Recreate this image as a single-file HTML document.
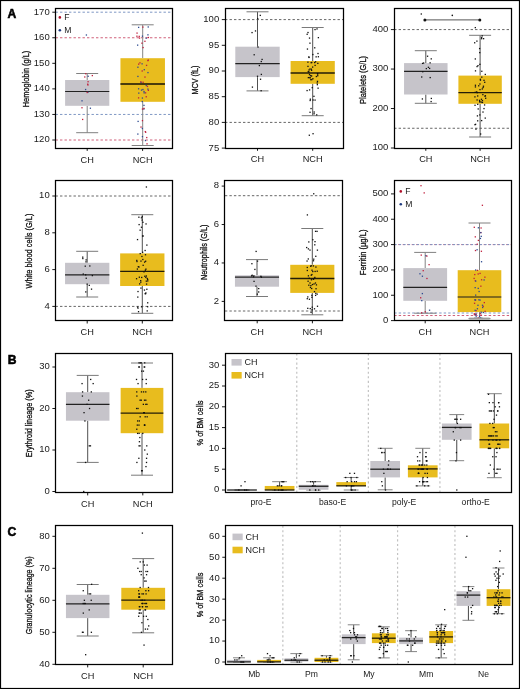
<!DOCTYPE html>
<html><head><meta charset="utf-8"><style>
html,body{margin:0;padding:0;background:#fff;}
svg{display:block;will-change:transform;}
text{font-family:"Liberation Sans",sans-serif;}
</style></head><body>
<svg width="520" height="689" viewBox="0 0 520 689">
<rect x="0" y="0" width="520" height="689" fill="#fff"/>
<line x1="55.50" y1="12.20" x2="172.80" y2="12.20" stroke="#7f97c4" stroke-width="1" stroke-dasharray="2.4 2.1"/>
<line x1="55.50" y1="37.76" x2="172.80" y2="37.76" stroke="#d0607a" stroke-width="1" stroke-dasharray="2.4 2.1"/>
<line x1="55.50" y1="114.44" x2="172.80" y2="114.44" stroke="#7f97c4" stroke-width="1" stroke-dasharray="2.4 2.1"/>
<line x1="55.50" y1="140.00" x2="172.80" y2="140.00" stroke="#d0607a" stroke-width="1" stroke-dasharray="2.4 2.1"/>
<line x1="87.20" y1="73.50" x2="87.20" y2="80.00" stroke="#858585" stroke-width="1"/>
<line x1="87.20" y1="105.80" x2="87.20" y2="132.70" stroke="#858585" stroke-width="1"/>
<line x1="76.20" y1="73.50" x2="98.20" y2="73.50" stroke="#808080" stroke-width="1"/>
<line x1="76.20" y1="132.70" x2="98.20" y2="132.70" stroke="#808080" stroke-width="1"/>
<rect x="65.10" y="80.00" width="44.20" height="25.80" fill="#C6C4CA"/>
<line x1="65.10" y1="91.50" x2="109.30" y2="91.50" stroke="#222" stroke-width="1.2"/>
<rect x="91.69" y="74.95" width="1.30" height="1.30" fill="#C01F3C"/>
<rect x="87.44" y="81.08" width="1.30" height="1.30" fill="#C01F3C"/>
<rect x="81.37" y="100.16" width="1.30" height="1.30" fill="#2E4C91"/>
<rect x="81.34" y="107.10" width="1.30" height="1.30" fill="#C01F3C"/>
<rect x="84.13" y="76.33" width="1.30" height="1.30" fill="#C01F3C"/>
<rect x="87.02" y="83.56" width="1.30" height="1.30" fill="#C01F3C"/>
<rect x="87.24" y="91.68" width="1.30" height="1.30" fill="#2E4C91"/>
<rect x="81.99" y="118.80" width="1.30" height="1.30" fill="#C01F3C"/>
<rect x="85.08" y="73.09" width="1.30" height="1.30" fill="#C01F3C"/>
<rect x="87.29" y="84.34" width="1.30" height="1.30" fill="#C01F3C"/>
<rect x="86.51" y="91.85" width="1.30" height="1.30" fill="#C01F3C"/>
<rect x="89.74" y="107.59" width="1.30" height="1.30" fill="#2E4C91"/>
<rect x="87.53" y="75.61" width="1.30" height="1.30" fill="#2E4C91"/>
<rect x="84.96" y="88.86" width="1.30" height="1.30" fill="#2E4C91"/>
<line x1="142.70" y1="24.80" x2="142.70" y2="58.20" stroke="#858585" stroke-width="1"/>
<line x1="142.70" y1="101.80" x2="142.70" y2="145.50" stroke="#858585" stroke-width="1"/>
<line x1="131.70" y1="24.80" x2="153.70" y2="24.80" stroke="#808080" stroke-width="1"/>
<line x1="131.70" y1="145.50" x2="153.70" y2="145.50" stroke="#808080" stroke-width="1"/>
<rect x="120.45" y="58.20" width="44.50" height="43.60" fill="#E8BC1E"/>
<line x1="120.45" y1="84.00" x2="164.95" y2="84.00" stroke="#4a3c0c" stroke-width="2"/>
<rect x="136.40" y="32.45" width="1.30" height="1.30" fill="#C01F3C"/>
<rect x="139.30" y="62.19" width="1.30" height="1.30" fill="#C01F3C"/>
<rect x="137.95" y="97.23" width="1.30" height="1.30" fill="#C01F3C"/>
<rect x="143.32" y="104.73" width="1.30" height="1.30" fill="#2E4C91"/>
<rect x="147.29" y="34.18" width="1.30" height="1.30" fill="#2E4C91"/>
<rect x="141.55" y="70.32" width="1.30" height="1.30" fill="#C01F3C"/>
<rect x="140.87" y="89.46" width="1.30" height="1.30" fill="#2E4C91"/>
<rect x="137.46" y="120.76" width="1.30" height="1.30" fill="#2E4C91"/>
<rect x="136.99" y="44.49" width="1.30" height="1.30" fill="#2E4C91"/>
<rect x="147.66" y="59.44" width="1.30" height="1.30" fill="#C01F3C"/>
<rect x="138.14" y="92.46" width="1.30" height="1.30" fill="#2E4C91"/>
<rect x="143.22" y="108.36" width="1.30" height="1.30" fill="#2E4C91"/>
<rect x="136.27" y="35.57" width="1.30" height="1.30" fill="#C01F3C"/>
<rect x="142.47" y="81.63" width="1.30" height="1.30" fill="#C01F3C"/>
<rect x="143.37" y="90.86" width="1.30" height="1.30" fill="#2E4C91"/>
<rect x="146.38" y="143.19" width="1.30" height="1.30" fill="#C01F3C"/>
<rect x="137.98" y="26.74" width="1.30" height="1.30" fill="#2E4C91"/>
<rect x="147.32" y="71.95" width="1.30" height="1.30" fill="#2E4C91"/>
<rect x="141.75" y="97.40" width="1.30" height="1.30" fill="#2E4C91"/>
<rect x="146.09" y="136.91" width="1.30" height="1.30" fill="#C01F3C"/>
<rect x="141.82" y="35.51" width="1.30" height="1.30" fill="#2E4C91"/>
<rect x="137.26" y="66.58" width="1.30" height="1.30" fill="#2E4C91"/>
<rect x="144.94" y="92.19" width="1.30" height="1.30" fill="#C01F3C"/>
<rect x="141.80" y="135.97" width="1.30" height="1.30" fill="#2E4C91"/>
<rect x="142.24" y="26.45" width="1.30" height="1.30" fill="#C01F3C"/>
<rect x="147.27" y="59.96" width="1.30" height="1.30" fill="#C01F3C"/>
<rect x="137.96" y="88.15" width="1.30" height="1.30" fill="#2E4C91"/>
<rect x="145.04" y="131.61" width="1.30" height="1.30" fill="#C01F3C"/>
<rect x="147.59" y="26.32" width="1.30" height="1.30" fill="#2E4C91"/>
<rect x="144.32" y="76.41" width="1.30" height="1.30" fill="#C01F3C"/>
<rect x="142.26" y="88.86" width="1.30" height="1.30" fill="#2E4C91"/>
<rect x="140.38" y="126.41" width="1.30" height="1.30" fill="#C01F3C"/>
<rect x="142.43" y="46.90" width="1.30" height="1.30" fill="#C01F3C"/>
<rect x="143.63" y="69.05" width="1.30" height="1.30" fill="#2E4C91"/>
<rect x="145.59" y="96.11" width="1.30" height="1.30" fill="#C01F3C"/>
<rect x="144.83" y="139.91" width="1.30" height="1.30" fill="#2E4C91"/>
<rect x="138.58" y="35.74" width="1.30" height="1.30" fill="#C01F3C"/>
<rect x="140.38" y="81.82" width="1.30" height="1.30" fill="#2E4C91"/>
<rect x="147.71" y="89.68" width="1.30" height="1.30" fill="#C01F3C"/>
<rect x="141.73" y="127.85" width="1.30" height="1.30" fill="#2E4C91"/>
<rect x="144.28" y="40.64" width="1.30" height="1.30" fill="#C01F3C"/>
<rect x="141.44" y="63.18" width="1.30" height="1.30" fill="#2E4C91"/>
<rect x="147.31" y="88.47" width="1.30" height="1.30" fill="#2E4C91"/>
<rect x="137.20" y="133.42" width="1.30" height="1.30" fill="#2E4C91"/>
<rect x="138.89" y="37.44" width="1.30" height="1.30" fill="#C01F3C"/>
<rect x="140.17" y="81.20" width="1.30" height="1.30" fill="#C01F3C"/>
<rect x="143.49" y="92.19" width="1.30" height="1.30" fill="#2E4C91"/>
<rect x="141.81" y="108.42" width="1.30" height="1.30" fill="#C01F3C"/>
<rect x="145.52" y="37.56" width="1.30" height="1.30" fill="#2E4C91"/>
<rect x="145.92" y="64.72" width="1.30" height="1.30" fill="#C01F3C"/>
<rect x="146.79" y="85.79" width="1.30" height="1.30" fill="#C01F3C"/>
<rect x="141.80" y="119.96" width="1.30" height="1.30" fill="#C01F3C"/>
<rect x="141.29" y="42.53" width="1.30" height="1.30" fill="#C01F3C"/>
<rect x="137.27" y="75.78" width="1.30" height="1.30" fill="#2E4C91"/>
<rect x="141.62" y="100.91" width="1.30" height="1.30" fill="#2E4C91"/>
<rect x="144.65" y="130.98" width="1.30" height="1.30" fill="#C01F3C"/>
<rect x="147.76" y="36.86" width="1.30" height="1.30" fill="#C01F3C"/>
<rect x="138.01" y="63.50" width="1.30" height="1.30" fill="#C01F3C"/>
<rect x="145.60" y="84.83" width="1.30" height="1.30" fill="#2E4C91"/>
<rect x="143.34" y="107.76" width="1.30" height="1.30" fill="#C01F3C"/>
<rect x="55.50" y="8.50" width="117.00" height="140.00" fill="none" stroke="#000" stroke-width="1.25"/>
<line x1="52.30" y1="140.00" x2="55.50" y2="140.00" stroke="#000" stroke-width="0.9"/>
<text x="49.70" y="142.40" font-size="9.5" text-anchor="end" font-weight="normal" fill="#1a1a1a">120</text>
<line x1="52.30" y1="114.44" x2="55.50" y2="114.44" stroke="#000" stroke-width="0.9"/>
<text x="49.70" y="116.84" font-size="9.5" text-anchor="end" font-weight="normal" fill="#1a1a1a">130</text>
<line x1="52.30" y1="88.88" x2="55.50" y2="88.88" stroke="#000" stroke-width="0.9"/>
<text x="49.70" y="91.28" font-size="9.5" text-anchor="end" font-weight="normal" fill="#1a1a1a">140</text>
<line x1="52.30" y1="63.32" x2="55.50" y2="63.32" stroke="#000" stroke-width="0.9"/>
<text x="49.70" y="65.72" font-size="9.5" text-anchor="end" font-weight="normal" fill="#1a1a1a">150</text>
<line x1="52.30" y1="37.76" x2="55.50" y2="37.76" stroke="#000" stroke-width="0.9"/>
<text x="49.70" y="40.16" font-size="9.5" text-anchor="end" font-weight="normal" fill="#1a1a1a">160</text>
<line x1="52.30" y1="12.20" x2="55.50" y2="12.20" stroke="#000" stroke-width="0.9"/>
<text x="49.70" y="14.60" font-size="9.5" text-anchor="end" font-weight="normal" fill="#1a1a1a">170</text>
<line x1="87.20" y1="148.30" x2="87.20" y2="150.90" stroke="#000" stroke-width="0.9"/>
<text x="87.20" y="162.50" font-size="9.2" text-anchor="middle" font-weight="normal" fill="#1a1a1a">CH</text>
<line x1="142.60" y1="148.30" x2="142.60" y2="150.90" stroke="#000" stroke-width="0.9"/>
<text x="142.60" y="162.50" font-size="9.2" text-anchor="middle" font-weight="normal" fill="#1a1a1a">NCH</text>
<text x="28.50" y="79.00" font-size="9.6" text-anchor="middle" font-weight="normal" fill="#111" transform="rotate(-90 28.50 79.00)" textLength="56.4" lengthAdjust="spacingAndGlyphs" stroke="#111" stroke-width="0.3">Hemoglobin (g/L)</text>
<circle cx="59.85" cy="17.4" r="1.3" fill="#b0102a"/>
<text x="64.35" y="20.00" font-size="8.6" text-anchor="start" font-weight="normal" fill="#1a1a1a">F</text>
<circle cx="59.85" cy="30.3" r="1.3" fill="#1f3a80"/>
<text x="64.35" y="33.00" font-size="8.6" text-anchor="start" font-weight="normal" fill="#1a1a1a">M</text>
<line x1="225.00" y1="19.60" x2="343.00" y2="19.60" stroke="#666" stroke-width="1" stroke-dasharray="2.4 2.1"/>
<line x1="225.00" y1="122.40" x2="343.00" y2="122.40" stroke="#666" stroke-width="1" stroke-dasharray="2.4 2.1"/>
<line x1="257.50" y1="11.80" x2="257.50" y2="46.70" stroke="#505050" stroke-width="1"/>
<line x1="257.50" y1="77.10" x2="257.50" y2="90.90" stroke="#505050" stroke-width="1"/>
<line x1="246.50" y1="11.80" x2="268.50" y2="11.80" stroke="#7a7a7a" stroke-width="1"/>
<line x1="246.50" y1="90.90" x2="268.50" y2="90.90" stroke="#7a7a7a" stroke-width="1"/>
<rect x="235.30" y="46.70" width="44.40" height="30.40" fill="#C6C4CA"/>
<line x1="235.30" y1="63.70" x2="279.70" y2="63.70" stroke="#222" stroke-width="1.2"/>
<rect x="251.40" y="31.95" width="1.30" height="1.30" fill="#111"/>
<rect x="253.53" y="54.11" width="1.30" height="1.30" fill="#111"/>
<rect x="256.86" y="75.61" width="1.30" height="1.30" fill="#111"/>
<rect x="259.89" y="78.60" width="1.30" height="1.30" fill="#111"/>
<rect x="254.84" y="30.29" width="1.30" height="1.30" fill="#111"/>
<rect x="257.36" y="46.41" width="1.30" height="1.30" fill="#111"/>
<rect x="260.71" y="73.76" width="1.30" height="1.30" fill="#111"/>
<rect x="251.78" y="86.47" width="1.30" height="1.30" fill="#111"/>
<rect x="259.62" y="14.74" width="1.30" height="1.30" fill="#111"/>
<rect x="261.44" y="58.79" width="1.30" height="1.30" fill="#111"/>
<rect x="258.73" y="64.92" width="1.30" height="1.30" fill="#111"/>
<rect x="260.49" y="90.06" width="1.30" height="1.30" fill="#111"/>
<rect x="257.04" y="17.95" width="1.30" height="1.30" fill="#111"/>
<rect x="260.63" y="60.91" width="1.30" height="1.30" fill="#111"/>
<line x1="312.70" y1="27.50" x2="312.70" y2="61.00" stroke="#505050" stroke-width="1"/>
<line x1="312.70" y1="83.80" x2="312.70" y2="115.70" stroke="#505050" stroke-width="1"/>
<line x1="301.70" y1="27.50" x2="323.70" y2="27.50" stroke="#7a7a7a" stroke-width="1"/>
<line x1="301.70" y1="115.70" x2="323.70" y2="115.70" stroke="#7a7a7a" stroke-width="1"/>
<rect x="290.60" y="61.00" width="44.20" height="22.80" fill="#E8BC1E"/>
<line x1="290.60" y1="73.00" x2="334.80" y2="73.00" stroke="#231d08" stroke-width="1.3"/>
<rect x="308.17" y="56.27" width="1.30" height="1.30" fill="#111"/>
<rect x="313.98" y="61.92" width="1.30" height="1.30" fill="#111"/>
<rect x="308.87" y="73.99" width="1.30" height="1.30" fill="#111"/>
<rect x="314.42" y="99.44" width="1.30" height="1.30" fill="#111"/>
<rect x="317.73" y="56.09" width="1.30" height="1.30" fill="#111"/>
<rect x="310.94" y="69.67" width="1.30" height="1.30" fill="#111"/>
<rect x="311.15" y="78.92" width="1.30" height="1.30" fill="#111"/>
<rect x="310.40" y="107.91" width="1.30" height="1.30" fill="#111"/>
<rect x="307.36" y="31.87" width="1.30" height="1.30" fill="#111"/>
<rect x="310.51" y="62.05" width="1.30" height="1.30" fill="#111"/>
<rect x="310.19" y="79.04" width="1.30" height="1.30" fill="#111"/>
<rect x="311.58" y="86.99" width="1.30" height="1.30" fill="#111"/>
<rect x="314.38" y="28.92" width="1.30" height="1.30" fill="#111"/>
<rect x="310.72" y="68.54" width="1.30" height="1.30" fill="#111"/>
<rect x="312.25" y="78.08" width="1.30" height="1.30" fill="#111"/>
<rect x="309.70" y="98.54" width="1.30" height="1.30" fill="#111"/>
<rect x="317.35" y="52.86" width="1.30" height="1.30" fill="#111"/>
<rect x="307.60" y="70.95" width="1.30" height="1.30" fill="#111"/>
<rect x="316.86" y="72.96" width="1.30" height="1.30" fill="#111"/>
<rect x="308.93" y="89.25" width="1.30" height="1.30" fill="#111"/>
<rect x="316.38" y="28.26" width="1.30" height="1.30" fill="#111"/>
<rect x="307.27" y="61.52" width="1.30" height="1.30" fill="#111"/>
<rect x="309.43" y="77.23" width="1.30" height="1.30" fill="#111"/>
<rect x="316.71" y="84.04" width="1.30" height="1.30" fill="#111"/>
<rect x="308.39" y="56.80" width="1.30" height="1.30" fill="#111"/>
<rect x="314.99" y="61.11" width="1.30" height="1.30" fill="#111"/>
<rect x="315.72" y="75.87" width="1.30" height="1.30" fill="#111"/>
<rect x="316.07" y="114.20" width="1.30" height="1.30" fill="#111"/>
<rect x="314.07" y="47.16" width="1.30" height="1.30" fill="#111"/>
<rect x="317.18" y="62.74" width="1.30" height="1.30" fill="#111"/>
<rect x="310.97" y="75.34" width="1.30" height="1.30" fill="#111"/>
<rect x="312.47" y="99.36" width="1.30" height="1.30" fill="#111"/>
<rect x="312.22" y="53.90" width="1.30" height="1.30" fill="#111"/>
<rect x="311.99" y="66.44" width="1.30" height="1.30" fill="#111"/>
<rect x="310.06" y="75.02" width="1.30" height="1.30" fill="#111"/>
<rect x="309.51" y="99.84" width="1.30" height="1.30" fill="#111"/>
<rect x="315.49" y="56.20" width="1.30" height="1.30" fill="#111"/>
<rect x="308.41" y="71.48" width="1.30" height="1.30" fill="#111"/>
<rect x="316.59" y="82.32" width="1.30" height="1.30" fill="#111"/>
<rect x="309.39" y="111.63" width="1.30" height="1.30" fill="#111"/>
<rect x="306.50" y="33.64" width="1.30" height="1.30" fill="#111"/>
<rect x="307.32" y="65.72" width="1.30" height="1.30" fill="#111"/>
<rect x="309.30" y="76.85" width="1.30" height="1.30" fill="#111"/>
<rect x="313.29" y="95.67" width="1.30" height="1.30" fill="#111"/>
<rect x="308.86" y="37.44" width="1.30" height="1.30" fill="#111"/>
<rect x="309.34" y="68.40" width="1.30" height="1.30" fill="#111"/>
<rect x="307.70" y="76.98" width="1.30" height="1.30" fill="#111"/>
<rect x="306.44" y="89.93" width="1.30" height="1.30" fill="#111"/>
<rect x="317.73" y="36.99" width="1.30" height="1.30" fill="#111"/>
<rect x="311.10" y="61.82" width="1.30" height="1.30" fill="#111"/>
<rect x="316.82" y="80.74" width="1.30" height="1.30" fill="#111"/>
<rect x="313.45" y="113.12" width="1.30" height="1.30" fill="#111"/>
<rect x="306.80" y="48.41" width="1.30" height="1.30" fill="#111"/>
<rect x="314.46" y="64.74" width="1.30" height="1.30" fill="#111"/>
<rect x="317.08" y="75.08" width="1.30" height="1.30" fill="#111"/>
<rect x="317.44" y="87.53" width="1.30" height="1.30" fill="#111"/>
<rect x="309.31" y="42.52" width="1.30" height="1.30" fill="#111"/>
<rect x="308.39" y="69.31" width="1.30" height="1.30" fill="#111"/>
<rect x="317.02" y="73.37" width="1.30" height="1.30" fill="#111"/>
<rect x="313.53" y="111.38" width="1.30" height="1.30" fill="#111"/>
<rect x="312.41" y="133.06" width="1.30" height="1.30" fill="#111"/>
<rect x="308.67" y="134.60" width="1.30" height="1.30" fill="#111"/>
<rect x="225.50" y="8.50" width="118.00" height="140.00" fill="none" stroke="#000" stroke-width="1.25"/>
<line x1="221.80" y1="148.10" x2="225.00" y2="148.10" stroke="#000" stroke-width="0.9"/>
<text x="219.20" y="150.50" font-size="9.5" text-anchor="end" font-weight="normal" fill="#1a1a1a">75</text>
<line x1="221.80" y1="122.40" x2="225.00" y2="122.40" stroke="#000" stroke-width="0.9"/>
<text x="219.20" y="124.80" font-size="9.5" text-anchor="end" font-weight="normal" fill="#1a1a1a">80</text>
<line x1="221.80" y1="96.70" x2="225.00" y2="96.70" stroke="#000" stroke-width="0.9"/>
<text x="219.20" y="99.10" font-size="9.5" text-anchor="end" font-weight="normal" fill="#1a1a1a">85</text>
<line x1="221.80" y1="71.00" x2="225.00" y2="71.00" stroke="#000" stroke-width="0.9"/>
<text x="219.20" y="73.40" font-size="9.5" text-anchor="end" font-weight="normal" fill="#1a1a1a">90</text>
<line x1="221.80" y1="45.30" x2="225.00" y2="45.30" stroke="#000" stroke-width="0.9"/>
<text x="219.20" y="47.70" font-size="9.5" text-anchor="end" font-weight="normal" fill="#1a1a1a">95</text>
<line x1="221.80" y1="19.60" x2="225.00" y2="19.60" stroke="#000" stroke-width="0.9"/>
<text x="219.20" y="22.00" font-size="9.5" text-anchor="end" font-weight="normal" fill="#1a1a1a">100</text>
<line x1="257.50" y1="148.20" x2="257.50" y2="150.80" stroke="#000" stroke-width="0.9"/>
<text x="257.50" y="162.40" font-size="9.2" text-anchor="middle" font-weight="normal" fill="#1a1a1a">CH</text>
<line x1="312.70" y1="148.20" x2="312.70" y2="150.80" stroke="#000" stroke-width="0.9"/>
<text x="312.70" y="162.40" font-size="9.2" text-anchor="middle" font-weight="normal" fill="#1a1a1a">NCH</text>
<text x="198.00" y="80.00" font-size="9.6" text-anchor="middle" font-weight="normal" fill="#111" transform="rotate(-90 198.00 80.00)" textLength="28.900000000000002" lengthAdjust="spacingAndGlyphs" stroke="#111" stroke-width="0.3">MCV (fL)</text>
<line x1="394.10" y1="29.59" x2="511.50" y2="29.59" stroke="#666" stroke-width="1" stroke-dasharray="2.4 2.1"/>
<line x1="394.10" y1="128.26" x2="511.50" y2="128.26" stroke="#666" stroke-width="1" stroke-dasharray="2.4 2.1"/>
<line x1="425.80" y1="50.70" x2="425.80" y2="63.10" stroke="#505050" stroke-width="1"/>
<line x1="425.80" y1="94.50" x2="425.80" y2="103.30" stroke="#505050" stroke-width="1"/>
<line x1="414.80" y1="50.70" x2="436.80" y2="50.70" stroke="#7a7a7a" stroke-width="1"/>
<line x1="414.80" y1="103.30" x2="436.80" y2="103.30" stroke="#7a7a7a" stroke-width="1"/>
<rect x="404.05" y="63.10" width="43.50" height="31.40" fill="#C6C4CA"/>
<line x1="404.05" y1="71.30" x2="447.55" y2="71.30" stroke="#222" stroke-width="1.2"/>
<rect x="426.92" y="55.58" width="1.30" height="1.30" fill="#111"/>
<rect x="425.67" y="67.96" width="1.30" height="1.30" fill="#111"/>
<rect x="429.55" y="76.93" width="1.30" height="1.30" fill="#111"/>
<rect x="430.47" y="100.92" width="1.30" height="1.30" fill="#111"/>
<rect x="422.98" y="62.38" width="1.30" height="1.30" fill="#111"/>
<rect x="421.93" y="62.75" width="1.30" height="1.30" fill="#111"/>
<rect x="422.09" y="71.08" width="1.30" height="1.30" fill="#111"/>
<rect x="421.74" y="98.30" width="1.30" height="1.30" fill="#111"/>
<rect x="429.47" y="62.18" width="1.30" height="1.30" fill="#111"/>
<rect x="427.74" y="66.67" width="1.30" height="1.30" fill="#111"/>
<rect x="421.08" y="76.35" width="1.30" height="1.30" fill="#111"/>
<rect x="430.69" y="97.78" width="1.30" height="1.30" fill="#111"/>
<rect x="430.60" y="58.21" width="1.30" height="1.30" fill="#111"/>
<rect x="428.96" y="67.78" width="1.30" height="1.30" fill="#111"/>
<line x1="480.10" y1="35.30" x2="480.10" y2="75.60" stroke="#505050" stroke-width="1"/>
<line x1="480.10" y1="103.80" x2="480.10" y2="137.00" stroke="#505050" stroke-width="1"/>
<line x1="469.10" y1="35.30" x2="491.10" y2="35.30" stroke="#7a7a7a" stroke-width="1"/>
<line x1="469.10" y1="137.00" x2="491.10" y2="137.00" stroke="#7a7a7a" stroke-width="1"/>
<rect x="458.40" y="75.60" width="43.40" height="28.20" fill="#E8BC1E"/>
<line x1="458.40" y1="92.60" x2="501.80" y2="92.60" stroke="#231d08" stroke-width="1.3"/>
<rect x="481.55" y="35.22" width="1.30" height="1.30" fill="#111"/>
<rect x="482.81" y="85.58" width="1.30" height="1.30" fill="#111"/>
<rect x="481.83" y="101.80" width="1.30" height="1.30" fill="#111"/>
<rect x="484.60" y="117.45" width="1.30" height="1.30" fill="#111"/>
<rect x="481.06" y="36.88" width="1.30" height="1.30" fill="#111"/>
<rect x="474.77" y="86.26" width="1.30" height="1.30" fill="#111"/>
<rect x="474.28" y="96.22" width="1.30" height="1.30" fill="#111"/>
<rect x="481.00" y="119.95" width="1.30" height="1.30" fill="#111"/>
<rect x="484.64" y="73.78" width="1.30" height="1.30" fill="#111"/>
<rect x="478.06" y="85.13" width="1.30" height="1.30" fill="#111"/>
<rect x="478.90" y="99.71" width="1.30" height="1.30" fill="#111"/>
<rect x="474.38" y="104.65" width="1.30" height="1.30" fill="#111"/>
<rect x="474.02" y="42.12" width="1.30" height="1.30" fill="#111"/>
<rect x="479.80" y="79.52" width="1.30" height="1.30" fill="#111"/>
<rect x="476.57" y="91.99" width="1.30" height="1.30" fill="#111"/>
<rect x="476.78" y="115.24" width="1.30" height="1.30" fill="#111"/>
<rect x="478.96" y="47.91" width="1.30" height="1.30" fill="#111"/>
<rect x="474.60" y="91.69" width="1.30" height="1.30" fill="#111"/>
<rect x="484.33" y="95.57" width="1.30" height="1.30" fill="#111"/>
<rect x="483.94" y="104.29" width="1.30" height="1.30" fill="#111"/>
<rect x="474.85" y="70.21" width="1.30" height="1.30" fill="#111"/>
<rect x="479.74" y="78.65" width="1.30" height="1.30" fill="#111"/>
<rect x="482.22" y="94.00" width="1.30" height="1.30" fill="#111"/>
<rect x="479.16" y="114.28" width="1.30" height="1.30" fill="#111"/>
<rect x="482.94" y="38.03" width="1.30" height="1.30" fill="#111"/>
<rect x="483.36" y="79.69" width="1.30" height="1.30" fill="#111"/>
<rect x="476.46" y="99.30" width="1.30" height="1.30" fill="#111"/>
<rect x="482.34" y="111.39" width="1.30" height="1.30" fill="#111"/>
<rect x="476.41" y="65.93" width="1.30" height="1.30" fill="#111"/>
<rect x="481.14" y="76.49" width="1.30" height="1.30" fill="#111"/>
<rect x="479.00" y="101.10" width="1.30" height="1.30" fill="#111"/>
<rect x="483.35" y="107.93" width="1.30" height="1.30" fill="#111"/>
<rect x="474.67" y="58.30" width="1.30" height="1.30" fill="#111"/>
<rect x="484.08" y="81.65" width="1.30" height="1.30" fill="#111"/>
<rect x="477.05" y="95.31" width="1.30" height="1.30" fill="#111"/>
<rect x="474.34" y="124.06" width="1.30" height="1.30" fill="#111"/>
<rect x="480.95" y="38.05" width="1.30" height="1.30" fill="#111"/>
<rect x="476.05" y="91.23" width="1.30" height="1.30" fill="#111"/>
<rect x="480.58" y="101.51" width="1.30" height="1.30" fill="#111"/>
<rect x="477.55" y="108.30" width="1.30" height="1.30" fill="#111"/>
<rect x="481.16" y="70.63" width="1.30" height="1.30" fill="#111"/>
<rect x="481.63" y="88.28" width="1.30" height="1.30" fill="#111"/>
<rect x="480.82" y="98.63" width="1.30" height="1.30" fill="#111"/>
<rect x="475.31" y="128.53" width="1.30" height="1.30" fill="#111"/>
<rect x="479.25" y="63.69" width="1.30" height="1.30" fill="#111"/>
<rect x="479.29" y="83.35" width="1.30" height="1.30" fill="#111"/>
<rect x="484.78" y="95.13" width="1.30" height="1.30" fill="#111"/>
<rect x="474.93" y="123.69" width="1.30" height="1.30" fill="#111"/>
<rect x="476.26" y="40.48" width="1.30" height="1.30" fill="#111"/>
<rect x="479.33" y="88.97" width="1.30" height="1.30" fill="#111"/>
<rect x="481.81" y="99.96" width="1.30" height="1.30" fill="#111"/>
<rect x="477.03" y="120.18" width="1.30" height="1.30" fill="#111"/>
<rect x="479.07" y="51.95" width="1.30" height="1.30" fill="#111"/>
<rect x="482.46" y="86.87" width="1.30" height="1.30" fill="#111"/>
<rect x="485.02" y="97.61" width="1.30" height="1.30" fill="#111"/>
<rect x="480.00" y="133.36" width="1.30" height="1.30" fill="#111"/>
<rect x="477.32" y="64.99" width="1.30" height="1.30" fill="#111"/>
<rect x="474.78" y="84.61" width="1.30" height="1.30" fill="#111"/>
<rect x="479.14" y="101.05" width="1.30" height="1.30" fill="#111"/>
<rect x="477.08" y="103.68" width="1.30" height="1.30" fill="#111"/>
<rect x="474.67" y="26.97" width="1.30" height="1.30" fill="#111"/>
<rect x="394.50" y="8.50" width="117.00" height="140.00" fill="none" stroke="#000" stroke-width="1.25"/>
<line x1="390.90" y1="148.00" x2="394.10" y2="148.00" stroke="#000" stroke-width="0.9"/>
<text x="388.30" y="150.40" font-size="9.5" text-anchor="end" font-weight="normal" fill="#1a1a1a">100</text>
<line x1="390.90" y1="108.53" x2="394.10" y2="108.53" stroke="#000" stroke-width="0.9"/>
<text x="388.30" y="110.93" font-size="9.5" text-anchor="end" font-weight="normal" fill="#1a1a1a">200</text>
<line x1="390.90" y1="69.06" x2="394.10" y2="69.06" stroke="#000" stroke-width="0.9"/>
<text x="388.30" y="71.46" font-size="9.5" text-anchor="end" font-weight="normal" fill="#1a1a1a">300</text>
<line x1="390.90" y1="29.59" x2="394.10" y2="29.59" stroke="#000" stroke-width="0.9"/>
<text x="388.30" y="31.99" font-size="9.5" text-anchor="end" font-weight="normal" fill="#1a1a1a">400</text>
<line x1="425.80" y1="148.20" x2="425.80" y2="150.80" stroke="#000" stroke-width="0.9"/>
<text x="425.80" y="162.40" font-size="9.2" text-anchor="middle" font-weight="normal" fill="#1a1a1a">CH</text>
<line x1="480.10" y1="148.20" x2="480.10" y2="150.80" stroke="#000" stroke-width="0.9"/>
<text x="480.10" y="162.40" font-size="9.2" text-anchor="middle" font-weight="normal" fill="#1a1a1a">NCH</text>
<text x="366.30" y="79.90" font-size="9.6" text-anchor="middle" font-weight="normal" fill="#111" transform="rotate(-90 366.30 79.90)" textLength="48.0" lengthAdjust="spacingAndGlyphs" stroke="#111" stroke-width="0.3">Platelets (G/L)</text>
<line x1="424.90" y1="19.90" x2="479.80" y2="19.90" stroke="#555" stroke-width="1"/>
<circle cx="424.9" cy="19.9" r="1.5" fill="#111"/><circle cx="479.8" cy="19.9" r="1.5" fill="#111"/>
<circle cx="452.3" cy="15.4" r="0.8" fill="#111"/>
<line x1="55.50" y1="196.00" x2="172.80" y2="196.00" stroke="#666" stroke-width="1" stroke-dasharray="2.4 2.1"/>
<line x1="55.50" y1="306.40" x2="172.80" y2="306.40" stroke="#666" stroke-width="1" stroke-dasharray="2.4 2.1"/>
<line x1="87.20" y1="251.30" x2="87.20" y2="262.80" stroke="#505050" stroke-width="1"/>
<line x1="87.20" y1="284.20" x2="87.20" y2="297.00" stroke="#505050" stroke-width="1"/>
<line x1="76.20" y1="251.30" x2="98.20" y2="251.30" stroke="#7a7a7a" stroke-width="1"/>
<line x1="76.20" y1="297.00" x2="98.20" y2="297.00" stroke="#7a7a7a" stroke-width="1"/>
<rect x="65.05" y="262.80" width="44.30" height="21.40" fill="#C6C4CA"/>
<line x1="65.05" y1="274.90" x2="109.35" y2="274.90" stroke="#222" stroke-width="1.2"/>
<rect x="82.09" y="256.48" width="1.30" height="1.30" fill="#111"/>
<rect x="85.00" y="274.18" width="1.30" height="1.30" fill="#111"/>
<rect x="86.53" y="283.49" width="1.30" height="1.30" fill="#111"/>
<rect x="90.88" y="288.50" width="1.30" height="1.30" fill="#111"/>
<rect x="85.33" y="261.19" width="1.30" height="1.30" fill="#111"/>
<rect x="82.62" y="273.41" width="1.30" height="1.30" fill="#111"/>
<rect x="91.73" y="274.94" width="1.30" height="1.30" fill="#111"/>
<rect x="88.64" y="284.71" width="1.30" height="1.30" fill="#111"/>
<rect x="85.46" y="259.25" width="1.30" height="1.30" fill="#111"/>
<rect x="89.17" y="265.32" width="1.30" height="1.30" fill="#111"/>
<rect x="85.58" y="277.59" width="1.30" height="1.30" fill="#111"/>
<rect x="85.12" y="291.27" width="1.30" height="1.30" fill="#111"/>
<rect x="82.18" y="257.91" width="1.30" height="1.30" fill="#111"/>
<rect x="84.61" y="265.53" width="1.30" height="1.30" fill="#111"/>
<line x1="142.30" y1="214.70" x2="142.30" y2="253.40" stroke="#505050" stroke-width="1"/>
<line x1="142.30" y1="286.00" x2="142.30" y2="313.30" stroke="#505050" stroke-width="1"/>
<line x1="131.30" y1="214.70" x2="153.30" y2="214.70" stroke="#7a7a7a" stroke-width="1"/>
<line x1="131.30" y1="313.30" x2="153.30" y2="313.30" stroke="#7a7a7a" stroke-width="1"/>
<rect x="120.15" y="253.40" width="44.30" height="32.60" fill="#E8BC1E"/>
<line x1="120.15" y1="271.40" x2="164.45" y2="271.40" stroke="#231d08" stroke-width="1.3"/>
<rect x="140.81" y="226.61" width="1.30" height="1.30" fill="#111"/>
<rect x="142.20" y="258.84" width="1.30" height="1.30" fill="#111"/>
<rect x="138.70" y="276.56" width="1.30" height="1.30" fill="#111"/>
<rect x="137.90" y="311.01" width="1.30" height="1.30" fill="#111"/>
<rect x="142.29" y="221.63" width="1.30" height="1.30" fill="#111"/>
<rect x="139.57" y="252.96" width="1.30" height="1.30" fill="#111"/>
<rect x="140.13" y="281.55" width="1.30" height="1.30" fill="#111"/>
<rect x="145.21" y="292.26" width="1.30" height="1.30" fill="#111"/>
<rect x="138.22" y="216.56" width="1.30" height="1.30" fill="#111"/>
<rect x="136.12" y="259.77" width="1.30" height="1.30" fill="#111"/>
<rect x="145.92" y="283.45" width="1.30" height="1.30" fill="#111"/>
<rect x="140.30" y="287.44" width="1.30" height="1.30" fill="#111"/>
<rect x="144.48" y="249.86" width="1.30" height="1.30" fill="#111"/>
<rect x="138.31" y="266.35" width="1.30" height="1.30" fill="#111"/>
<rect x="139.00" y="283.22" width="1.30" height="1.30" fill="#111"/>
<rect x="144.55" y="293.01" width="1.30" height="1.30" fill="#111"/>
<rect x="141.63" y="216.05" width="1.30" height="1.30" fill="#111"/>
<rect x="142.51" y="264.67" width="1.30" height="1.30" fill="#111"/>
<rect x="140.04" y="280.02" width="1.30" height="1.30" fill="#111"/>
<rect x="143.80" y="289.42" width="1.30" height="1.30" fill="#111"/>
<rect x="141.99" y="251.63" width="1.30" height="1.30" fill="#111"/>
<rect x="144.99" y="260.60" width="1.30" height="1.30" fill="#111"/>
<rect x="145.67" y="275.36" width="1.30" height="1.30" fill="#111"/>
<rect x="136.96" y="306.46" width="1.30" height="1.30" fill="#111"/>
<rect x="146.22" y="244.44" width="1.30" height="1.30" fill="#111"/>
<rect x="140.32" y="260.45" width="1.30" height="1.30" fill="#111"/>
<rect x="143.33" y="271.17" width="1.30" height="1.30" fill="#111"/>
<rect x="140.86" y="306.14" width="1.30" height="1.30" fill="#111"/>
<rect x="139.48" y="229.53" width="1.30" height="1.30" fill="#111"/>
<rect x="145.27" y="268.51" width="1.30" height="1.30" fill="#111"/>
<rect x="147.04" y="278.84" width="1.30" height="1.30" fill="#111"/>
<rect x="137.36" y="290.90" width="1.30" height="1.30" fill="#111"/>
<rect x="140.79" y="217.17" width="1.30" height="1.30" fill="#111"/>
<rect x="144.69" y="269.55" width="1.30" height="1.30" fill="#111"/>
<rect x="145.15" y="276.75" width="1.30" height="1.30" fill="#111"/>
<rect x="147.04" y="302.14" width="1.30" height="1.30" fill="#111"/>
<rect x="141.53" y="219.41" width="1.30" height="1.30" fill="#111"/>
<rect x="136.73" y="268.40" width="1.30" height="1.30" fill="#111"/>
<rect x="146.61" y="277.84" width="1.30" height="1.30" fill="#111"/>
<rect x="146.58" y="310.25" width="1.30" height="1.30" fill="#111"/>
<rect x="141.97" y="235.34" width="1.30" height="1.30" fill="#111"/>
<rect x="141.28" y="255.82" width="1.30" height="1.30" fill="#111"/>
<rect x="141.06" y="276.81" width="1.30" height="1.30" fill="#111"/>
<rect x="144.91" y="293.04" width="1.30" height="1.30" fill="#111"/>
<rect x="138.47" y="223.95" width="1.30" height="1.30" fill="#111"/>
<rect x="137.64" y="266.05" width="1.30" height="1.30" fill="#111"/>
<rect x="147.09" y="280.28" width="1.30" height="1.30" fill="#111"/>
<rect x="137.15" y="296.44" width="1.30" height="1.30" fill="#111"/>
<rect x="145.40" y="223.29" width="1.30" height="1.30" fill="#111"/>
<rect x="143.97" y="261.45" width="1.30" height="1.30" fill="#111"/>
<rect x="145.64" y="280.52" width="1.30" height="1.30" fill="#111"/>
<rect x="146.20" y="288.62" width="1.30" height="1.30" fill="#111"/>
<rect x="136.87" y="238.94" width="1.30" height="1.30" fill="#111"/>
<rect x="144.84" y="254.10" width="1.30" height="1.30" fill="#111"/>
<rect x="135.91" y="278.06" width="1.30" height="1.30" fill="#111"/>
<rect x="137.34" y="307.51" width="1.30" height="1.30" fill="#111"/>
<rect x="142.45" y="235.35" width="1.30" height="1.30" fill="#111"/>
<rect x="136.32" y="260.90" width="1.30" height="1.30" fill="#111"/>
<rect x="144.13" y="275.61" width="1.30" height="1.30" fill="#111"/>
<rect x="146.98" y="306.08" width="1.30" height="1.30" fill="#111"/>
<rect x="55.50" y="180.50" width="117.00" height="140.00" fill="none" stroke="#000" stroke-width="1.25"/>
<line x1="52.30" y1="306.40" x2="55.50" y2="306.40" stroke="#000" stroke-width="0.9"/>
<text x="49.70" y="308.80" font-size="9.5" text-anchor="end" font-weight="normal" fill="#1a1a1a">4</text>
<line x1="52.30" y1="269.60" x2="55.50" y2="269.60" stroke="#000" stroke-width="0.9"/>
<text x="49.70" y="272.00" font-size="9.5" text-anchor="end" font-weight="normal" fill="#1a1a1a">6</text>
<line x1="52.30" y1="232.80" x2="55.50" y2="232.80" stroke="#000" stroke-width="0.9"/>
<text x="49.70" y="235.20" font-size="9.5" text-anchor="end" font-weight="normal" fill="#1a1a1a">8</text>
<line x1="52.30" y1="196.00" x2="55.50" y2="196.00" stroke="#000" stroke-width="0.9"/>
<text x="49.70" y="198.40" font-size="9.5" text-anchor="end" font-weight="normal" fill="#1a1a1a">10</text>
<line x1="87.20" y1="320.90" x2="87.20" y2="323.50" stroke="#000" stroke-width="0.9"/>
<text x="87.20" y="335.10" font-size="9.2" text-anchor="middle" font-weight="normal" fill="#1a1a1a">CH</text>
<line x1="142.30" y1="320.90" x2="142.30" y2="323.50" stroke="#000" stroke-width="0.9"/>
<text x="142.30" y="335.10" font-size="9.2" text-anchor="middle" font-weight="normal" fill="#1a1a1a">NCH</text>
<text x="32.00" y="251.00" font-size="9.6" text-anchor="middle" font-weight="normal" fill="#111" transform="rotate(-90 32.00 251.00)" textLength="74.89999999999999" lengthAdjust="spacingAndGlyphs" stroke="#111" stroke-width="0.3">White blood cells (G/L)</text>
<line x1="224.90" y1="195.69" x2="342.40" y2="195.69" stroke="#666" stroke-width="1" stroke-dasharray="2.4 2.1"/>
<line x1="224.90" y1="311.01" x2="342.40" y2="311.01" stroke="#666" stroke-width="1" stroke-dasharray="2.4 2.1"/>
<line x1="257.00" y1="259.60" x2="257.00" y2="275.30" stroke="#505050" stroke-width="1"/>
<line x1="257.00" y1="286.70" x2="257.00" y2="296.50" stroke="#505050" stroke-width="1"/>
<line x1="246.00" y1="259.60" x2="268.00" y2="259.60" stroke="#7a7a7a" stroke-width="1"/>
<line x1="246.00" y1="296.50" x2="268.00" y2="296.50" stroke="#7a7a7a" stroke-width="1"/>
<rect x="234.95" y="275.30" width="44.10" height="11.40" fill="#C6C4CA"/>
<line x1="234.95" y1="277.20" x2="279.05" y2="277.20" stroke="#222" stroke-width="1.2"/>
<rect x="254.24" y="268.79" width="1.30" height="1.30" fill="#111"/>
<rect x="260.24" y="275.65" width="1.30" height="1.30" fill="#111"/>
<rect x="253.40" y="280.71" width="1.30" height="1.30" fill="#111"/>
<rect x="256.65" y="293.54" width="1.30" height="1.30" fill="#111"/>
<rect x="256.89" y="260.51" width="1.30" height="1.30" fill="#111"/>
<rect x="250.95" y="275.22" width="1.30" height="1.30" fill="#111"/>
<rect x="255.34" y="285.51" width="1.30" height="1.30" fill="#111"/>
<rect x="258.07" y="287.93" width="1.30" height="1.30" fill="#111"/>
<rect x="251.25" y="263.05" width="1.30" height="1.30" fill="#111"/>
<rect x="252.84" y="276.15" width="1.30" height="1.30" fill="#111"/>
<rect x="260.76" y="276.56" width="1.30" height="1.30" fill="#111"/>
<rect x="258.04" y="291.32" width="1.30" height="1.30" fill="#111"/>
<rect x="251.55" y="274.59" width="1.30" height="1.30" fill="#111"/>
<rect x="253.23" y="275.18" width="1.30" height="1.30" fill="#111"/>
<rect x="255.48" y="250.78" width="1.30" height="1.30" fill="#111"/>
<line x1="312.30" y1="228.50" x2="312.30" y2="264.80" stroke="#505050" stroke-width="1"/>
<line x1="312.30" y1="292.90" x2="312.30" y2="314.80" stroke="#505050" stroke-width="1"/>
<line x1="301.30" y1="228.50" x2="323.30" y2="228.50" stroke="#7a7a7a" stroke-width="1"/>
<line x1="301.30" y1="314.80" x2="323.30" y2="314.80" stroke="#7a7a7a" stroke-width="1"/>
<rect x="290.25" y="264.80" width="44.10" height="28.10" fill="#E8BC1E"/>
<line x1="290.25" y1="278.50" x2="334.35" y2="278.50" stroke="#231d08" stroke-width="1.3"/>
<rect x="308.16" y="241.29" width="1.30" height="1.30" fill="#111"/>
<rect x="312.13" y="270.90" width="1.30" height="1.30" fill="#111"/>
<rect x="311.03" y="287.87" width="1.30" height="1.30" fill="#111"/>
<rect x="309.62" y="307.98" width="1.30" height="1.30" fill="#111"/>
<rect x="314.37" y="241.00" width="1.30" height="1.30" fill="#111"/>
<rect x="311.36" y="269.58" width="1.30" height="1.30" fill="#111"/>
<rect x="313.16" y="277.95" width="1.30" height="1.30" fill="#111"/>
<rect x="308.76" y="298.65" width="1.30" height="1.30" fill="#111"/>
<rect x="313.09" y="258.53" width="1.30" height="1.30" fill="#111"/>
<rect x="310.56" y="265.07" width="1.30" height="1.30" fill="#111"/>
<rect x="310.22" y="284.99" width="1.30" height="1.30" fill="#111"/>
<rect x="311.24" y="296.64" width="1.30" height="1.30" fill="#111"/>
<rect x="315.13" y="255.65" width="1.30" height="1.30" fill="#111"/>
<rect x="306.63" y="266.81" width="1.30" height="1.30" fill="#111"/>
<rect x="308.15" y="284.55" width="1.30" height="1.30" fill="#111"/>
<rect x="306.64" y="298.05" width="1.30" height="1.30" fill="#111"/>
<rect x="312.86" y="260.13" width="1.30" height="1.30" fill="#111"/>
<rect x="310.08" y="265.64" width="1.30" height="1.30" fill="#111"/>
<rect x="309.76" y="286.83" width="1.30" height="1.30" fill="#111"/>
<rect x="316.85" y="305.61" width="1.30" height="1.30" fill="#111"/>
<rect x="306.42" y="260.39" width="1.30" height="1.30" fill="#111"/>
<rect x="314.48" y="270.80" width="1.30" height="1.30" fill="#111"/>
<rect x="313.82" y="290.96" width="1.30" height="1.30" fill="#111"/>
<rect x="316.51" y="293.49" width="1.30" height="1.30" fill="#111"/>
<rect x="309.33" y="249.44" width="1.30" height="1.30" fill="#111"/>
<rect x="314.19" y="276.78" width="1.30" height="1.30" fill="#111"/>
<rect x="312.75" y="278.63" width="1.30" height="1.30" fill="#111"/>
<rect x="315.15" y="292.77" width="1.30" height="1.30" fill="#111"/>
<rect x="316.77" y="249.49" width="1.30" height="1.30" fill="#111"/>
<rect x="306.67" y="269.84" width="1.30" height="1.30" fill="#111"/>
<rect x="315.39" y="288.07" width="1.30" height="1.30" fill="#111"/>
<rect x="307.15" y="296.28" width="1.30" height="1.30" fill="#111"/>
<rect x="314.12" y="244.17" width="1.30" height="1.30" fill="#111"/>
<rect x="311.26" y="273.90" width="1.30" height="1.30" fill="#111"/>
<rect x="314.82" y="282.37" width="1.30" height="1.30" fill="#111"/>
<rect x="314.97" y="294.73" width="1.30" height="1.30" fill="#111"/>
<rect x="316.39" y="230.73" width="1.30" height="1.30" fill="#111"/>
<rect x="315.26" y="266.42" width="1.30" height="1.30" fill="#111"/>
<rect x="307.44" y="280.60" width="1.30" height="1.30" fill="#111"/>
<rect x="311.61" y="306.54" width="1.30" height="1.30" fill="#111"/>
<rect x="306.02" y="246.90" width="1.30" height="1.30" fill="#111"/>
<rect x="316.59" y="270.56" width="1.30" height="1.30" fill="#111"/>
<rect x="309.39" y="282.34" width="1.30" height="1.30" fill="#111"/>
<rect x="313.85" y="308.14" width="1.30" height="1.30" fill="#111"/>
<rect x="307.65" y="258.31" width="1.30" height="1.30" fill="#111"/>
<rect x="308.62" y="277.64" width="1.30" height="1.30" fill="#111"/>
<rect x="315.79" y="284.22" width="1.30" height="1.30" fill="#111"/>
<rect x="311.20" y="294.64" width="1.30" height="1.30" fill="#111"/>
<rect x="314.90" y="230.69" width="1.30" height="1.30" fill="#111"/>
<rect x="312.75" y="265.26" width="1.30" height="1.30" fill="#111"/>
<rect x="311.79" y="283.90" width="1.30" height="1.30" fill="#111"/>
<rect x="310.41" y="311.64" width="1.30" height="1.30" fill="#111"/>
<rect x="307.75" y="248.22" width="1.30" height="1.30" fill="#111"/>
<rect x="310.59" y="274.55" width="1.30" height="1.30" fill="#111"/>
<rect x="313.36" y="283.32" width="1.30" height="1.30" fill="#111"/>
<rect x="311.44" y="309.09" width="1.30" height="1.30" fill="#111"/>
<rect x="312.16" y="239.06" width="1.30" height="1.30" fill="#111"/>
<rect x="307.76" y="275.16" width="1.30" height="1.30" fill="#111"/>
<rect x="310.81" y="279.11" width="1.30" height="1.30" fill="#111"/>
<rect x="307.12" y="307.70" width="1.30" height="1.30" fill="#111"/>
<rect x="306.74" y="214.26" width="1.30" height="1.30" fill="#111"/>
<rect x="313.08" y="193.12" width="1.30" height="1.30" fill="#111"/>
<rect x="224.50" y="180.50" width="118.00" height="140.00" fill="none" stroke="#000" stroke-width="1.25"/>
<line x1="221.70" y1="301.40" x2="224.90" y2="301.40" stroke="#000" stroke-width="0.9"/>
<text x="219.10" y="303.80" font-size="9.5" text-anchor="end" font-weight="normal" fill="#1a1a1a">2</text>
<line x1="221.70" y1="262.96" x2="224.90" y2="262.96" stroke="#000" stroke-width="0.9"/>
<text x="219.10" y="265.36" font-size="9.5" text-anchor="end" font-weight="normal" fill="#1a1a1a">4</text>
<line x1="221.70" y1="224.52" x2="224.90" y2="224.52" stroke="#000" stroke-width="0.9"/>
<text x="219.10" y="226.92" font-size="9.5" text-anchor="end" font-weight="normal" fill="#1a1a1a">6</text>
<line x1="221.70" y1="186.08" x2="224.90" y2="186.08" stroke="#000" stroke-width="0.9"/>
<text x="219.10" y="188.48" font-size="9.5" text-anchor="end" font-weight="normal" fill="#1a1a1a">8</text>
<line x1="257.20" y1="320.70" x2="257.20" y2="323.30" stroke="#000" stroke-width="0.9"/>
<text x="257.20" y="334.90" font-size="9.2" text-anchor="middle" font-weight="normal" fill="#1a1a1a">CH</text>
<line x1="312.40" y1="320.70" x2="312.40" y2="323.30" stroke="#000" stroke-width="0.9"/>
<text x="312.40" y="334.90" font-size="9.2" text-anchor="middle" font-weight="normal" fill="#1a1a1a">NCH</text>
<text x="207.30" y="252.30" font-size="9.6" text-anchor="middle" font-weight="normal" fill="#111" transform="rotate(-90 207.30 252.30)" textLength="55.4" lengthAdjust="spacingAndGlyphs" stroke="#111" stroke-width="0.3">Neutrophils (G/L)</text>
<line x1="394.20" y1="244.58" x2="511.35" y2="244.58" stroke="#d0607a" stroke-width="1" stroke-dasharray="2.4 2.1" stroke-dashoffset="0.5"/>
<line x1="394.20" y1="244.58" x2="511.35" y2="244.58" stroke="#7f97c4" stroke-width="1" stroke-dasharray="2.4 2.1"/>
<line x1="394.20" y1="313.00" x2="511.35" y2="313.00" stroke="#7f97c4" stroke-width="1" stroke-dasharray="2.4 2.1"/>
<line x1="394.20" y1="315.53" x2="511.35" y2="315.53" stroke="#d0607a" stroke-width="1" stroke-dasharray="2.4 2.1"/>
<line x1="425.20" y1="252.40" x2="425.20" y2="268.10" stroke="#858585" stroke-width="1"/>
<line x1="425.20" y1="300.80" x2="425.20" y2="313.20" stroke="#858585" stroke-width="1"/>
<line x1="414.20" y1="252.40" x2="436.20" y2="252.40" stroke="#808080" stroke-width="1"/>
<line x1="414.20" y1="313.20" x2="436.20" y2="313.20" stroke="#808080" stroke-width="1"/>
<rect x="403.30" y="268.10" width="43.80" height="32.70" fill="#C6C4CA"/>
<line x1="403.30" y1="287.40" x2="447.10" y2="287.40" stroke="#222" stroke-width="1.2"/>
<rect x="425.31" y="255.02" width="1.30" height="1.30" fill="#2E4C91"/>
<rect x="421.75" y="275.58" width="1.30" height="1.30" fill="#2E4C91"/>
<rect x="421.12" y="299.99" width="1.30" height="1.30" fill="#2E4C91"/>
<rect x="420.97" y="312.20" width="1.30" height="1.30" fill="#C01F3C"/>
<rect x="420.60" y="254.47" width="1.30" height="1.30" fill="#C01F3C"/>
<rect x="422.57" y="270.02" width="1.30" height="1.30" fill="#C01F3C"/>
<rect x="421.72" y="292.93" width="1.30" height="1.30" fill="#2E4C91"/>
<rect x="424.63" y="311.20" width="1.30" height="1.30" fill="#C01F3C"/>
<rect x="426.25" y="255.44" width="1.30" height="1.30" fill="#C01F3C"/>
<rect x="426.30" y="277.84" width="1.30" height="1.30" fill="#C01F3C"/>
<rect x="420.02" y="297.12" width="1.30" height="1.30" fill="#C01F3C"/>
<rect x="428.91" y="309.57" width="1.30" height="1.30" fill="#2E4C91"/>
<rect x="428.43" y="263.99" width="1.30" height="1.30" fill="#C01F3C"/>
<rect x="419.32" y="273.12" width="1.30" height="1.30" fill="#2E4C91"/>
<line x1="479.50" y1="223.00" x2="479.50" y2="270.20" stroke="#858585" stroke-width="1"/>
<line x1="479.50" y1="312.10" x2="479.50" y2="318.60" stroke="#858585" stroke-width="1"/>
<line x1="468.50" y1="223.00" x2="490.50" y2="223.00" stroke="#808080" stroke-width="1"/>
<line x1="468.50" y1="318.60" x2="490.50" y2="318.60" stroke="#808080" stroke-width="1"/>
<rect x="457.70" y="270.20" width="43.60" height="41.90" fill="#E8BC1E"/>
<line x1="457.70" y1="297.00" x2="501.30" y2="297.00" stroke="#1a1a1a" stroke-width="1.1"/>
<rect x="474.66" y="236.21" width="1.30" height="1.30" fill="#C01F3C"/>
<rect x="479.43" y="272.75" width="1.30" height="1.30" fill="#C01F3C"/>
<rect x="474.19" y="299.21" width="1.30" height="1.30" fill="#2E4C91"/>
<rect x="481.54" y="317.77" width="1.30" height="1.30" fill="#2E4C91"/>
<rect x="474.84" y="249.88" width="1.30" height="1.30" fill="#C01F3C"/>
<rect x="475.02" y="294.48" width="1.30" height="1.30" fill="#2E4C91"/>
<rect x="483.67" y="301.97" width="1.30" height="1.30" fill="#C01F3C"/>
<rect x="477.53" y="317.08" width="1.30" height="1.30" fill="#C01F3C"/>
<rect x="476.60" y="243.55" width="1.30" height="1.30" fill="#C01F3C"/>
<rect x="484.24" y="276.52" width="1.30" height="1.30" fill="#C01F3C"/>
<rect x="476.75" y="308.09" width="1.30" height="1.30" fill="#2E4C91"/>
<rect x="474.16" y="317.60" width="1.30" height="1.30" fill="#2E4C91"/>
<rect x="480.44" y="227.34" width="1.30" height="1.30" fill="#C01F3C"/>
<rect x="480.22" y="285.53" width="1.30" height="1.30" fill="#C01F3C"/>
<rect x="482.58" y="305.71" width="1.30" height="1.30" fill="#C01F3C"/>
<rect x="479.59" y="312.86" width="1.30" height="1.30" fill="#C01F3C"/>
<rect x="477.71" y="239.75" width="1.30" height="1.30" fill="#C01F3C"/>
<rect x="477.53" y="273.34" width="1.30" height="1.30" fill="#C01F3C"/>
<rect x="474.88" y="299.43" width="1.30" height="1.30" fill="#C01F3C"/>
<rect x="473.65" y="313.11" width="1.30" height="1.30" fill="#C01F3C"/>
<rect x="480.75" y="250.64" width="1.30" height="1.30" fill="#C01F3C"/>
<rect x="474.52" y="287.01" width="1.30" height="1.30" fill="#2E4C91"/>
<rect x="479.42" y="299.42" width="1.30" height="1.30" fill="#2E4C91"/>
<rect x="480.54" y="311.52" width="1.30" height="1.30" fill="#2E4C91"/>
<rect x="479.79" y="237.80" width="1.30" height="1.30" fill="#2E4C91"/>
<rect x="477.59" y="287.73" width="1.30" height="1.30" fill="#2E4C91"/>
<rect x="478.25" y="299.15" width="1.30" height="1.30" fill="#2E4C91"/>
<rect x="475.21" y="313.48" width="1.30" height="1.30" fill="#2E4C91"/>
<rect x="480.20" y="231.95" width="1.30" height="1.30" fill="#C01F3C"/>
<rect x="478.46" y="290.86" width="1.30" height="1.30" fill="#2E4C91"/>
<rect x="481.84" y="304.63" width="1.30" height="1.30" fill="#2E4C91"/>
<rect x="482.67" y="311.86" width="1.30" height="1.30" fill="#2E4C91"/>
<rect x="477.72" y="227.14" width="1.30" height="1.30" fill="#2E4C91"/>
<rect x="474.64" y="280.14" width="1.30" height="1.30" fill="#C01F3C"/>
<rect x="477.32" y="304.66" width="1.30" height="1.30" fill="#2E4C91"/>
<rect x="478.90" y="315.60" width="1.30" height="1.30" fill="#2E4C91"/>
<rect x="473.64" y="226.65" width="1.30" height="1.30" fill="#C01F3C"/>
<rect x="474.11" y="273.94" width="1.30" height="1.30" fill="#C01F3C"/>
<rect x="482.00" y="306.85" width="1.30" height="1.30" fill="#2E4C91"/>
<rect x="473.80" y="314.11" width="1.30" height="1.30" fill="#C01F3C"/>
<rect x="480.58" y="235.72" width="1.30" height="1.30" fill="#2E4C91"/>
<rect x="473.48" y="277.79" width="1.30" height="1.30" fill="#C01F3C"/>
<rect x="484.47" y="310.74" width="1.30" height="1.30" fill="#C01F3C"/>
<rect x="475.38" y="313.48" width="1.30" height="1.30" fill="#C01F3C"/>
<rect x="476.45" y="249.09" width="1.30" height="1.30" fill="#2E4C91"/>
<rect x="480.96" y="279.12" width="1.30" height="1.30" fill="#C01F3C"/>
<rect x="473.92" y="302.64" width="1.30" height="1.30" fill="#C01F3C"/>
<rect x="480.10" y="317.07" width="1.30" height="1.30" fill="#2E4C91"/>
<rect x="474.98" y="269.39" width="1.30" height="1.30" fill="#2E4C91"/>
<rect x="483.44" y="279.30" width="1.30" height="1.30" fill="#2E4C91"/>
<rect x="474.81" y="299.33" width="1.30" height="1.30" fill="#2E4C91"/>
<rect x="475.54" y="316.18" width="1.30" height="1.30" fill="#2E4C91"/>
<rect x="480.16" y="231.96" width="1.30" height="1.30" fill="#2E4C91"/>
<rect x="476.80" y="269.71" width="1.30" height="1.30" fill="#C01F3C"/>
<rect x="475.44" y="309.96" width="1.30" height="1.30" fill="#C01F3C"/>
<rect x="475.01" y="314.20" width="1.30" height="1.30" fill="#2E4C91"/>
<rect x="480.89" y="261.07" width="1.30" height="1.30" fill="#2E4C91"/>
<rect x="475.09" y="280.44" width="1.30" height="1.30" fill="#2E4C91"/>
<rect x="474.49" y="309.68" width="1.30" height="1.30" fill="#2E4C91"/>
<rect x="480.40" y="314.45" width="1.30" height="1.30" fill="#C01F3C"/>
<rect x="394.50" y="180.50" width="117.00" height="140.00" fill="none" stroke="#000" stroke-width="1.25"/>
<line x1="391.00" y1="320.60" x2="394.20" y2="320.60" stroke="#000" stroke-width="0.9"/>
<text x="388.40" y="323.00" font-size="9.5" text-anchor="end" font-weight="normal" fill="#1a1a1a">0</text>
<line x1="391.00" y1="295.26" x2="394.20" y2="295.26" stroke="#000" stroke-width="0.9"/>
<text x="388.40" y="297.66" font-size="9.5" text-anchor="end" font-weight="normal" fill="#1a1a1a">100</text>
<line x1="391.00" y1="269.92" x2="394.20" y2="269.92" stroke="#000" stroke-width="0.9"/>
<text x="388.40" y="272.32" font-size="9.5" text-anchor="end" font-weight="normal" fill="#1a1a1a">200</text>
<line x1="391.00" y1="244.58" x2="394.20" y2="244.58" stroke="#000" stroke-width="0.9"/>
<text x="388.40" y="246.98" font-size="9.5" text-anchor="end" font-weight="normal" fill="#1a1a1a">300</text>
<line x1="391.00" y1="219.24" x2="394.20" y2="219.24" stroke="#000" stroke-width="0.9"/>
<text x="388.40" y="221.64" font-size="9.5" text-anchor="end" font-weight="normal" fill="#1a1a1a">400</text>
<line x1="391.00" y1="193.90" x2="394.20" y2="193.90" stroke="#000" stroke-width="0.9"/>
<text x="388.40" y="196.30" font-size="9.5" text-anchor="end" font-weight="normal" fill="#1a1a1a">500</text>
<line x1="425.20" y1="320.70" x2="425.20" y2="323.30" stroke="#000" stroke-width="0.9"/>
<text x="425.20" y="334.90" font-size="9.2" text-anchor="middle" font-weight="normal" fill="#1a1a1a">CH</text>
<line x1="479.50" y1="320.70" x2="479.50" y2="323.30" stroke="#000" stroke-width="0.9"/>
<text x="479.50" y="334.90" font-size="9.2" text-anchor="middle" font-weight="normal" fill="#1a1a1a">NCH</text>
<text x="366.50" y="252.40" font-size="9.6" text-anchor="middle" font-weight="normal" fill="#111" transform="rotate(-90 366.50 252.40)" textLength="45.7" lengthAdjust="spacingAndGlyphs" stroke="#111" stroke-width="0.3">Ferritin (µg/L)</text>
<circle cx="400.8" cy="191.4" r="1.3" fill="#b0102a"/>
<text x="405.30" y="194.00" font-size="8.6" text-anchor="start" font-weight="normal" fill="#1a1a1a">F</text>
<circle cx="400.8" cy="204.3" r="1.3" fill="#1f3a80"/>
<text x="405.30" y="207.00" font-size="8.6" text-anchor="start" font-weight="normal" fill="#1a1a1a">M</text>
<rect x="469.30" y="317.60" width="20.30" height="2.00" fill="#9a9a9a"/>
<rect x="85.75" y="34.35" width="1.3" height="1.3" fill="#2E4C91"/>
<rect x="420.65" y="13.35" width="1.3" height="1.3" fill="#111"/>
<rect x="145.75" y="186.35" width="1.3" height="1.3" fill="#111"/>
<rect x="420.35" y="185.05" width="1.3" height="1.3" fill="#C01F3C"/>
<rect x="423.55" y="192.25" width="1.3" height="1.3" fill="#C01F3C"/>
<rect x="481.75" y="204.65" width="1.3" height="1.3" fill="#C01F3C"/>
<text x="7.60" y="17.80" font-size="12.1" text-anchor="start" font-weight="bold" fill="#000" stroke="#000" stroke-width="0.55">A</text>
<text x="7.80" y="363.80" font-size="12.1" text-anchor="start" font-weight="bold" fill="#000" stroke="#000" stroke-width="0.55">B</text>
<text x="7.60" y="536.00" font-size="12.1" text-anchor="start" font-weight="bold" fill="#000" stroke="#000" stroke-width="0.55">C</text>
<line x1="87.70" y1="375.40" x2="87.70" y2="392.20" stroke="#505050" stroke-width="1"/>
<line x1="87.70" y1="420.70" x2="87.70" y2="462.40" stroke="#505050" stroke-width="1"/>
<line x1="76.70" y1="375.40" x2="98.70" y2="375.40" stroke="#7a7a7a" stroke-width="1"/>
<line x1="76.70" y1="462.40" x2="98.70" y2="462.40" stroke="#7a7a7a" stroke-width="1"/>
<rect x="65.95" y="392.20" width="43.50" height="28.50" fill="#C6C4CA"/>
<line x1="65.95" y1="404.30" x2="109.45" y2="404.30" stroke="#222" stroke-width="1.2"/>
<rect x="90.04" y="378.80" width="1.30" height="1.30" fill="#111"/>
<rect x="86.40" y="403.70" width="1.30" height="1.30" fill="#111"/>
<rect x="83.39" y="412.00" width="1.30" height="1.30" fill="#111"/>
<rect x="89.81" y="445.20" width="1.30" height="1.30" fill="#111"/>
<rect x="81.94" y="391.25" width="1.30" height="1.30" fill="#111"/>
<rect x="90.67" y="391.25" width="1.30" height="1.30" fill="#111"/>
<rect x="84.26" y="420.30" width="1.30" height="1.30" fill="#111"/>
<rect x="88.62" y="445.20" width="1.30" height="1.30" fill="#111"/>
<rect x="92.52" y="382.95" width="1.30" height="1.30" fill="#111"/>
<rect x="88.02" y="399.55" width="1.30" height="1.30" fill="#111"/>
<rect x="88.90" y="407.85" width="1.30" height="1.30" fill="#111"/>
<rect x="84.93" y="461.80" width="1.30" height="1.30" fill="#111"/>
<rect x="81.42" y="382.95" width="1.30" height="1.30" fill="#111"/>
<rect x="81.78" y="395.40" width="1.30" height="1.30" fill="#111"/>
<rect x="83.08" y="490.85" width="1.30" height="1.30" fill="#111"/>
<line x1="142.00" y1="363.00" x2="142.00" y2="387.90" stroke="#505050" stroke-width="1"/>
<line x1="142.00" y1="433.20" x2="142.00" y2="475.20" stroke="#505050" stroke-width="1"/>
<line x1="131.00" y1="363.00" x2="153.00" y2="363.00" stroke="#7a7a7a" stroke-width="1"/>
<line x1="131.00" y1="475.20" x2="153.00" y2="475.20" stroke="#7a7a7a" stroke-width="1"/>
<rect x="120.65" y="387.90" width="42.70" height="45.30" fill="#E8BC1E"/>
<line x1="120.65" y1="413.10" x2="163.35" y2="413.10" stroke="#231d08" stroke-width="1.3"/>
<rect x="135.87" y="378.80" width="1.30" height="1.30" fill="#111"/>
<rect x="145.17" y="399.55" width="1.30" height="1.30" fill="#111"/>
<rect x="144.07" y="424.45" width="1.30" height="1.30" fill="#111"/>
<rect x="140.96" y="470.10" width="1.30" height="1.30" fill="#111"/>
<rect x="144.03" y="366.35" width="1.30" height="1.30" fill="#111"/>
<rect x="140.82" y="391.25" width="1.30" height="1.30" fill="#111"/>
<rect x="138.31" y="424.45" width="1.30" height="1.30" fill="#111"/>
<rect x="136.97" y="432.75" width="1.30" height="1.30" fill="#111"/>
<rect x="138.38" y="362.20" width="1.30" height="1.30" fill="#111"/>
<rect x="136.23" y="395.40" width="1.30" height="1.30" fill="#111"/>
<rect x="139.52" y="416.15" width="1.30" height="1.30" fill="#111"/>
<rect x="144.12" y="449.35" width="1.30" height="1.30" fill="#111"/>
<rect x="143.52" y="366.35" width="1.30" height="1.30" fill="#111"/>
<rect x="145.18" y="403.70" width="1.30" height="1.30" fill="#111"/>
<rect x="143.70" y="424.45" width="1.30" height="1.30" fill="#111"/>
<rect x="138.75" y="441.05" width="1.30" height="1.30" fill="#111"/>
<rect x="141.95" y="378.80" width="1.30" height="1.30" fill="#111"/>
<rect x="140.64" y="399.55" width="1.30" height="1.30" fill="#111"/>
<rect x="144.55" y="416.15" width="1.30" height="1.30" fill="#111"/>
<rect x="141.61" y="470.10" width="1.30" height="1.30" fill="#111"/>
<rect x="138.74" y="366.35" width="1.30" height="1.30" fill="#111"/>
<rect x="142.93" y="391.25" width="1.30" height="1.30" fill="#111"/>
<rect x="146.51" y="416.15" width="1.30" height="1.30" fill="#111"/>
<rect x="138.21" y="457.65" width="1.30" height="1.30" fill="#111"/>
<rect x="145.57" y="382.95" width="1.30" height="1.30" fill="#111"/>
<rect x="135.97" y="407.85" width="1.30" height="1.30" fill="#111"/>
<rect x="138.69" y="420.30" width="1.30" height="1.30" fill="#111"/>
<rect x="138.42" y="445.20" width="1.30" height="1.30" fill="#111"/>
<rect x="144.06" y="362.20" width="1.30" height="1.30" fill="#111"/>
<rect x="146.29" y="403.70" width="1.30" height="1.30" fill="#111"/>
<rect x="144.08" y="424.45" width="1.30" height="1.30" fill="#111"/>
<rect x="139.43" y="445.20" width="1.30" height="1.30" fill="#111"/>
<rect x="145.57" y="378.80" width="1.30" height="1.30" fill="#111"/>
<rect x="139.45" y="399.55" width="1.30" height="1.30" fill="#111"/>
<rect x="138.45" y="432.75" width="1.30" height="1.30" fill="#111"/>
<rect x="145.87" y="461.80" width="1.30" height="1.30" fill="#111"/>
<rect x="142.80" y="370.50" width="1.30" height="1.30" fill="#111"/>
<rect x="143.49" y="412.00" width="1.30" height="1.30" fill="#111"/>
<rect x="143.18" y="412.00" width="1.30" height="1.30" fill="#111"/>
<rect x="146.67" y="453.50" width="1.30" height="1.30" fill="#111"/>
<rect x="141.01" y="370.50" width="1.30" height="1.30" fill="#111"/>
<rect x="145.12" y="391.25" width="1.30" height="1.30" fill="#111"/>
<rect x="143.54" y="412.00" width="1.30" height="1.30" fill="#111"/>
<rect x="145.32" y="465.95" width="1.30" height="1.30" fill="#111"/>
<rect x="140.65" y="362.20" width="1.30" height="1.30" fill="#111"/>
<rect x="143.84" y="399.55" width="1.30" height="1.30" fill="#111"/>
<rect x="142.13" y="432.75" width="1.30" height="1.30" fill="#111"/>
<rect x="139.22" y="436.90" width="1.30" height="1.30" fill="#111"/>
<rect x="138.15" y="366.35" width="1.30" height="1.30" fill="#111"/>
<rect x="142.71" y="403.70" width="1.30" height="1.30" fill="#111"/>
<rect x="136.66" y="424.45" width="1.30" height="1.30" fill="#111"/>
<rect x="145.91" y="457.65" width="1.30" height="1.30" fill="#111"/>
<rect x="137.40" y="382.95" width="1.30" height="1.30" fill="#111"/>
<rect x="136.10" y="391.25" width="1.30" height="1.30" fill="#111"/>
<rect x="136.98" y="420.30" width="1.30" height="1.30" fill="#111"/>
<rect x="146.11" y="445.20" width="1.30" height="1.30" fill="#111"/>
<rect x="139.63" y="362.20" width="1.30" height="1.30" fill="#111"/>
<rect x="137.37" y="407.85" width="1.30" height="1.30" fill="#111"/>
<rect x="136.12" y="428.60" width="1.30" height="1.30" fill="#111"/>
<rect x="136.26" y="461.80" width="1.30" height="1.30" fill="#111"/>
<rect x="55.50" y="353.50" width="117.00" height="139.00" fill="none" stroke="#000" stroke-width="1.25"/>
<line x1="52.40" y1="491.50" x2="55.60" y2="491.50" stroke="#000" stroke-width="0.9"/>
<text x="49.80" y="493.90" font-size="9.5" text-anchor="end" font-weight="normal" fill="#1a1a1a">0</text>
<line x1="52.40" y1="450.00" x2="55.60" y2="450.00" stroke="#000" stroke-width="0.9"/>
<text x="49.80" y="452.40" font-size="9.5" text-anchor="end" font-weight="normal" fill="#1a1a1a">10</text>
<line x1="52.40" y1="408.50" x2="55.60" y2="408.50" stroke="#000" stroke-width="0.9"/>
<text x="49.80" y="410.90" font-size="9.5" text-anchor="end" font-weight="normal" fill="#1a1a1a">20</text>
<line x1="52.40" y1="367.00" x2="55.60" y2="367.00" stroke="#000" stroke-width="0.9"/>
<text x="49.80" y="369.40" font-size="9.5" text-anchor="end" font-weight="normal" fill="#1a1a1a">30</text>
<line x1="87.70" y1="492.80" x2="87.70" y2="495.40" stroke="#000" stroke-width="0.9"/>
<text x="87.70" y="507.00" font-size="9.2" text-anchor="middle" font-weight="normal" fill="#1a1a1a">CH</text>
<line x1="142.80" y1="492.80" x2="142.80" y2="495.40" stroke="#000" stroke-width="0.9"/>
<text x="142.80" y="507.00" font-size="9.2" text-anchor="middle" font-weight="normal" fill="#1a1a1a">NCH</text>
<text x="32.50" y="423.30" font-size="9.6" text-anchor="middle" font-weight="normal" fill="#111" transform="rotate(-90 32.50 423.30)" textLength="68.0" lengthAdjust="spacingAndGlyphs" stroke="#111" stroke-width="0.3">Erythroid lineage (%)</text>
<line x1="87.70" y1="584.50" x2="87.70" y2="594.80" stroke="#505050" stroke-width="1"/>
<line x1="87.70" y1="618.10" x2="87.70" y2="636.00" stroke="#505050" stroke-width="1"/>
<line x1="76.70" y1="584.50" x2="98.70" y2="584.50" stroke="#7a7a7a" stroke-width="1"/>
<line x1="76.70" y1="636.00" x2="98.70" y2="636.00" stroke="#7a7a7a" stroke-width="1"/>
<rect x="65.95" y="594.80" width="43.50" height="23.30" fill="#C6C4CA"/>
<line x1="65.95" y1="603.90" x2="109.45" y2="603.90" stroke="#222" stroke-width="1.2"/>
<rect x="82.61" y="590.05" width="1.30" height="1.30" fill="#111"/>
<rect x="83.72" y="599.65" width="1.30" height="1.30" fill="#111"/>
<rect x="82.66" y="612.45" width="1.30" height="1.30" fill="#111"/>
<rect x="81.78" y="631.65" width="1.30" height="1.30" fill="#111"/>
<rect x="90.98" y="583.65" width="1.30" height="1.30" fill="#111"/>
<rect x="90.58" y="599.65" width="1.30" height="1.30" fill="#111"/>
<rect x="88.57" y="609.25" width="1.30" height="1.30" fill="#111"/>
<rect x="90.73" y="631.65" width="1.30" height="1.30" fill="#111"/>
<rect x="88.54" y="593.25" width="1.30" height="1.30" fill="#111"/>
<rect x="84.65" y="602.85" width="1.30" height="1.30" fill="#111"/>
<rect x="82.52" y="602.85" width="1.30" height="1.30" fill="#111"/>
<rect x="82.50" y="631.65" width="1.30" height="1.30" fill="#111"/>
<rect x="89.96" y="593.25" width="1.30" height="1.30" fill="#111"/>
<rect x="83.71" y="602.85" width="1.30" height="1.30" fill="#111"/>
<rect x="85.00" y="654.05" width="1.30" height="1.30" fill="#111"/>
<line x1="143.20" y1="558.60" x2="143.20" y2="587.80" stroke="#505050" stroke-width="1"/>
<line x1="143.20" y1="609.70" x2="143.20" y2="632.80" stroke="#505050" stroke-width="1"/>
<line x1="132.20" y1="558.60" x2="154.20" y2="558.60" stroke="#7a7a7a" stroke-width="1"/>
<line x1="132.20" y1="632.80" x2="154.20" y2="632.80" stroke="#7a7a7a" stroke-width="1"/>
<rect x="121.30" y="587.80" width="43.80" height="21.90" fill="#E8BC1E"/>
<line x1="121.30" y1="600.20" x2="165.10" y2="600.20" stroke="#231d08" stroke-width="1.3"/>
<rect x="146.92" y="570.85" width="1.30" height="1.30" fill="#111"/>
<rect x="139.52" y="586.85" width="1.30" height="1.30" fill="#111"/>
<rect x="142.10" y="602.85" width="1.30" height="1.30" fill="#111"/>
<rect x="142.91" y="615.65" width="1.30" height="1.30" fill="#111"/>
<rect x="145.45" y="580.45" width="1.30" height="1.30" fill="#111"/>
<rect x="145.43" y="593.25" width="1.30" height="1.30" fill="#111"/>
<rect x="144.22" y="602.85" width="1.30" height="1.30" fill="#111"/>
<rect x="140.82" y="631.65" width="1.30" height="1.30" fill="#111"/>
<rect x="140.58" y="574.05" width="1.30" height="1.30" fill="#111"/>
<rect x="138.62" y="596.45" width="1.30" height="1.30" fill="#111"/>
<rect x="146.46" y="606.05" width="1.30" height="1.30" fill="#111"/>
<rect x="144.40" y="609.25" width="1.30" height="1.30" fill="#111"/>
<rect x="145.31" y="570.85" width="1.30" height="1.30" fill="#111"/>
<rect x="138.79" y="593.25" width="1.30" height="1.30" fill="#111"/>
<rect x="141.85" y="606.05" width="1.30" height="1.30" fill="#111"/>
<rect x="145.66" y="615.65" width="1.30" height="1.30" fill="#111"/>
<rect x="143.45" y="577.25" width="1.30" height="1.30" fill="#111"/>
<rect x="138.29" y="593.25" width="1.30" height="1.30" fill="#111"/>
<rect x="142.12" y="602.85" width="1.30" height="1.30" fill="#111"/>
<rect x="146.94" y="628.45" width="1.30" height="1.30" fill="#111"/>
<rect x="139.57" y="561.25" width="1.30" height="1.30" fill="#111"/>
<rect x="139.04" y="596.45" width="1.30" height="1.30" fill="#111"/>
<rect x="140.29" y="599.65" width="1.30" height="1.30" fill="#111"/>
<rect x="144.86" y="609.25" width="1.30" height="1.30" fill="#111"/>
<rect x="146.46" y="564.45" width="1.30" height="1.30" fill="#111"/>
<rect x="138.62" y="596.45" width="1.30" height="1.30" fill="#111"/>
<rect x="138.63" y="609.25" width="1.30" height="1.30" fill="#111"/>
<rect x="139.68" y="609.25" width="1.30" height="1.30" fill="#111"/>
<rect x="140.57" y="570.85" width="1.30" height="1.30" fill="#111"/>
<rect x="142.80" y="593.25" width="1.30" height="1.30" fill="#111"/>
<rect x="138.69" y="606.05" width="1.30" height="1.30" fill="#111"/>
<rect x="140.59" y="612.45" width="1.30" height="1.30" fill="#111"/>
<rect x="139.01" y="570.85" width="1.30" height="1.30" fill="#111"/>
<rect x="147.96" y="590.05" width="1.30" height="1.30" fill="#111"/>
<rect x="145.15" y="606.05" width="1.30" height="1.30" fill="#111"/>
<rect x="138.02" y="615.65" width="1.30" height="1.30" fill="#111"/>
<rect x="147.82" y="586.85" width="1.30" height="1.30" fill="#111"/>
<rect x="138.01" y="590.05" width="1.30" height="1.30" fill="#111"/>
<rect x="141.23" y="602.85" width="1.30" height="1.30" fill="#111"/>
<rect x="148.06" y="625.25" width="1.30" height="1.30" fill="#111"/>
<rect x="145.91" y="574.05" width="1.30" height="1.30" fill="#111"/>
<rect x="145.21" y="590.05" width="1.30" height="1.30" fill="#111"/>
<rect x="141.81" y="606.05" width="1.30" height="1.30" fill="#111"/>
<rect x="139.09" y="612.45" width="1.30" height="1.30" fill="#111"/>
<rect x="144.12" y="580.45" width="1.30" height="1.30" fill="#111"/>
<rect x="138.07" y="596.45" width="1.30" height="1.30" fill="#111"/>
<rect x="139.21" y="606.05" width="1.30" height="1.30" fill="#111"/>
<rect x="141.28" y="622.05" width="1.30" height="1.30" fill="#111"/>
<rect x="137.24" y="567.65" width="1.30" height="1.30" fill="#111"/>
<rect x="141.40" y="593.25" width="1.30" height="1.30" fill="#111"/>
<rect x="145.86" y="602.85" width="1.30" height="1.30" fill="#111"/>
<rect x="144.75" y="628.45" width="1.30" height="1.30" fill="#111"/>
<rect x="142.56" y="561.25" width="1.30" height="1.30" fill="#111"/>
<rect x="144.06" y="599.65" width="1.30" height="1.30" fill="#111"/>
<rect x="142.13" y="599.65" width="1.30" height="1.30" fill="#111"/>
<rect x="138.47" y="612.45" width="1.30" height="1.30" fill="#111"/>
<rect x="143.73" y="564.45" width="1.30" height="1.30" fill="#111"/>
<rect x="141.46" y="599.65" width="1.30" height="1.30" fill="#111"/>
<rect x="145.29" y="602.85" width="1.30" height="1.30" fill="#111"/>
<rect x="147.20" y="618.85" width="1.30" height="1.30" fill="#111"/>
<rect x="141.75" y="532.45" width="1.30" height="1.30" fill="#111"/>
<rect x="143.39" y="644.45" width="1.30" height="1.30" fill="#111"/>
<rect x="55.50" y="525.50" width="117.00" height="139.00" fill="none" stroke="#000" stroke-width="1.25"/>
<line x1="52.40" y1="664.30" x2="55.60" y2="664.30" stroke="#000" stroke-width="0.9"/>
<text x="49.80" y="666.70" font-size="9.5" text-anchor="end" font-weight="normal" fill="#1a1a1a">40</text>
<line x1="52.40" y1="632.30" x2="55.60" y2="632.30" stroke="#000" stroke-width="0.9"/>
<text x="49.80" y="634.70" font-size="9.5" text-anchor="end" font-weight="normal" fill="#1a1a1a">50</text>
<line x1="52.40" y1="600.30" x2="55.60" y2="600.30" stroke="#000" stroke-width="0.9"/>
<text x="49.80" y="602.70" font-size="9.5" text-anchor="end" font-weight="normal" fill="#1a1a1a">60</text>
<line x1="52.40" y1="568.30" x2="55.60" y2="568.30" stroke="#000" stroke-width="0.9"/>
<text x="49.80" y="570.70" font-size="9.5" text-anchor="end" font-weight="normal" fill="#1a1a1a">70</text>
<line x1="52.40" y1="536.30" x2="55.60" y2="536.30" stroke="#000" stroke-width="0.9"/>
<text x="49.80" y="538.70" font-size="9.5" text-anchor="end" font-weight="normal" fill="#1a1a1a">80</text>
<line x1="87.70" y1="664.80" x2="87.70" y2="667.40" stroke="#000" stroke-width="0.9"/>
<text x="87.70" y="679.00" font-size="9.2" text-anchor="middle" font-weight="normal" fill="#1a1a1a">CH</text>
<line x1="143.20" y1="664.80" x2="143.20" y2="667.40" stroke="#000" stroke-width="0.9"/>
<text x="143.20" y="679.00" font-size="9.2" text-anchor="middle" font-weight="normal" fill="#1a1a1a">NCH</text>
<text x="32.40" y="595.30" font-size="9.6" text-anchor="middle" font-weight="normal" fill="#111" transform="rotate(-90 32.40 595.30)" textLength="78.1" lengthAdjust="spacingAndGlyphs" stroke="#111" stroke-width="0.3">Granulocytic lineage (%)</text>
<line x1="296.77" y1="353.40" x2="296.77" y2="492.70" stroke="#c2c2c2" stroke-width="1.2" stroke-dasharray="2.1 2.47"/>
<line x1="368.35" y1="353.40" x2="368.35" y2="492.70" stroke="#c2c2c2" stroke-width="1.2" stroke-dasharray="2.1 2.47"/>
<line x1="439.93" y1="353.40" x2="439.93" y2="492.70" stroke="#c2c2c2" stroke-width="1.2" stroke-dasharray="2.1 2.47"/>
<line x1="242.02" y1="490.00" x2="242.02" y2="490.00" stroke="#333" stroke-width="0.9"/>
<line x1="242.02" y1="490.00" x2="242.02" y2="490.00" stroke="#333" stroke-width="0.9"/>
<line x1="234.59" y1="490.00" x2="249.45" y2="490.00" stroke="#777" stroke-width="0.9"/>
<line x1="234.59" y1="490.00" x2="249.45" y2="490.00" stroke="#777" stroke-width="0.9"/>
<rect x="227.17" y="490.00" width="29.70" height="0.00" fill="#C6C4CA"/>
<line x1="227.17" y1="490.00" x2="256.87" y2="490.00" stroke="#222" stroke-width="1.3"/>
<rect x="244.33" y="481.03" width="1.30" height="1.30" fill="#111"/>
<rect x="240.43" y="485.19" width="1.30" height="1.30" fill="#111"/>
<rect x="238.15" y="489.35" width="1.30" height="1.30" fill="#111"/>
<rect x="244.01" y="489.35" width="1.30" height="1.30" fill="#111"/>
<rect x="245.89" y="489.35" width="1.30" height="1.30" fill="#111"/>
<line x1="279.60" y1="481.68" x2="279.60" y2="485.96" stroke="#333" stroke-width="0.9"/>
<line x1="279.60" y1="490.00" x2="279.60" y2="490.00" stroke="#333" stroke-width="0.9"/>
<line x1="272.17" y1="481.68" x2="287.02" y2="481.68" stroke="#777" stroke-width="0.9"/>
<line x1="272.17" y1="490.00" x2="287.02" y2="490.00" stroke="#777" stroke-width="0.9"/>
<rect x="264.75" y="485.96" width="29.70" height="4.04" fill="#E8BC1E"/>
<line x1="264.75" y1="490.00" x2="294.45" y2="490.00" stroke="#231d08" stroke-width="1.3"/>
<rect x="282.20" y="481.03" width="1.30" height="1.30" fill="#111"/>
<rect x="281.32" y="481.03" width="1.30" height="1.30" fill="#111"/>
<rect x="283.13" y="481.03" width="1.30" height="1.30" fill="#111"/>
<rect x="281.08" y="485.19" width="1.30" height="1.30" fill="#111"/>
<rect x="280.63" y="485.19" width="1.30" height="1.30" fill="#111"/>
<rect x="278.40" y="485.19" width="1.30" height="1.30" fill="#111"/>
<rect x="276.73" y="485.19" width="1.30" height="1.30" fill="#111"/>
<rect x="280.47" y="489.35" width="1.30" height="1.30" fill="#111"/>
<rect x="274.17" y="489.35" width="1.30" height="1.30" fill="#111"/>
<rect x="277.99" y="489.35" width="1.30" height="1.30" fill="#111"/>
<rect x="282.30" y="489.35" width="1.30" height="1.30" fill="#111"/>
<rect x="281.48" y="489.35" width="1.30" height="1.30" fill="#111"/>
<text x="260.99" y="505.00" font-size="8.6" text-anchor="middle" font-weight="normal" fill="#1a1a1a">pro-E</text>
<line x1="313.60" y1="481.68" x2="313.60" y2="484.80" stroke="#333" stroke-width="0.9"/>
<line x1="313.60" y1="489.79" x2="313.60" y2="490.00" stroke="#333" stroke-width="0.9"/>
<line x1="306.17" y1="481.68" x2="321.02" y2="481.68" stroke="#777" stroke-width="0.9"/>
<line x1="306.17" y1="490.00" x2="321.02" y2="490.00" stroke="#777" stroke-width="0.9"/>
<rect x="298.74" y="484.80" width="29.70" height="4.99" fill="#C6C4CA"/>
<line x1="298.74" y1="486.26" x2="328.45" y2="486.26" stroke="#222" stroke-width="1.3"/>
<rect x="314.49" y="481.03" width="1.30" height="1.30" fill="#111"/>
<rect x="309.98" y="481.03" width="1.30" height="1.30" fill="#111"/>
<rect x="312.04" y="481.03" width="1.30" height="1.30" fill="#111"/>
<rect x="312.41" y="485.19" width="1.30" height="1.30" fill="#111"/>
<rect x="314.39" y="485.19" width="1.30" height="1.30" fill="#111"/>
<rect x="311.87" y="485.19" width="1.30" height="1.30" fill="#111"/>
<rect x="315.03" y="489.35" width="1.30" height="1.30" fill="#111"/>
<rect x="318.06" y="489.35" width="1.30" height="1.30" fill="#111"/>
<rect x="309.18" y="489.35" width="1.30" height="1.30" fill="#111"/>
<rect x="314.78" y="489.35" width="1.30" height="1.30" fill="#111"/>
<line x1="351.17" y1="477.52" x2="351.17" y2="482.10" stroke="#333" stroke-width="0.9"/>
<line x1="351.17" y1="486.05" x2="351.17" y2="490.00" stroke="#333" stroke-width="0.9"/>
<line x1="343.75" y1="477.52" x2="358.60" y2="477.52" stroke="#777" stroke-width="0.9"/>
<line x1="343.75" y1="490.00" x2="358.60" y2="490.00" stroke="#777" stroke-width="0.9"/>
<rect x="336.32" y="482.10" width="29.70" height="3.95" fill="#E8BC1E"/>
<line x1="336.32" y1="485.84" x2="366.02" y2="485.84" stroke="#231d08" stroke-width="1.3"/>
<rect x="353.83" y="472.71" width="1.30" height="1.30" fill="#111"/>
<rect x="349.20" y="472.71" width="1.30" height="1.30" fill="#111"/>
<rect x="350.40" y="476.87" width="1.30" height="1.30" fill="#111"/>
<rect x="356.16" y="476.87" width="1.30" height="1.30" fill="#111"/>
<rect x="345.03" y="476.87" width="1.30" height="1.30" fill="#111"/>
<rect x="351.04" y="481.03" width="1.30" height="1.30" fill="#111"/>
<rect x="346.49" y="481.03" width="1.30" height="1.30" fill="#111"/>
<rect x="353.87" y="481.03" width="1.30" height="1.30" fill="#111"/>
<rect x="355.76" y="481.03" width="1.30" height="1.30" fill="#111"/>
<rect x="350.75" y="485.19" width="1.30" height="1.30" fill="#111"/>
<rect x="345.78" y="485.19" width="1.30" height="1.30" fill="#111"/>
<rect x="351.41" y="485.19" width="1.30" height="1.30" fill="#111"/>
<rect x="351.01" y="485.19" width="1.30" height="1.30" fill="#111"/>
<rect x="353.10" y="485.19" width="1.30" height="1.30" fill="#111"/>
<rect x="350.67" y="489.35" width="1.30" height="1.30" fill="#111"/>
<rect x="352.18" y="489.35" width="1.30" height="1.30" fill="#111"/>
<rect x="354.43" y="489.35" width="1.30" height="1.30" fill="#111"/>
<rect x="350.78" y="489.35" width="1.30" height="1.30" fill="#111"/>
<text x="332.56" y="505.00" font-size="8.6" text-anchor="middle" font-weight="normal" fill="#1a1a1a">baso-E</text>
<line x1="385.17" y1="448.30" x2="385.17" y2="461.00" stroke="#333" stroke-width="0.9"/>
<line x1="385.17" y1="477.40" x2="385.17" y2="489.80" stroke="#333" stroke-width="0.9"/>
<line x1="377.74" y1="448.30" x2="392.60" y2="448.30" stroke="#777" stroke-width="0.9"/>
<line x1="377.74" y1="489.80" x2="392.60" y2="489.80" stroke="#777" stroke-width="0.9"/>
<rect x="370.32" y="461.00" width="29.70" height="16.40" fill="#C6C4CA"/>
<line x1="370.32" y1="469.20" x2="400.02" y2="469.20" stroke="#222" stroke-width="1.3"/>
<rect x="383.58" y="451.91" width="1.30" height="1.30" fill="#111"/>
<rect x="386.88" y="468.55" width="1.30" height="1.30" fill="#111"/>
<rect x="382.76" y="468.55" width="1.30" height="1.30" fill="#111"/>
<rect x="381.73" y="485.19" width="1.30" height="1.30" fill="#111"/>
<rect x="381.25" y="451.91" width="1.30" height="1.30" fill="#111"/>
<rect x="387.39" y="468.55" width="1.30" height="1.30" fill="#111"/>
<rect x="389.75" y="468.55" width="1.30" height="1.30" fill="#111"/>
<rect x="384.84" y="489.35" width="1.30" height="1.30" fill="#111"/>
<rect x="381.18" y="451.91" width="1.30" height="1.30" fill="#111"/>
<rect x="388.10" y="460.23" width="1.30" height="1.30" fill="#111"/>
<rect x="383.24" y="472.71" width="1.30" height="1.30" fill="#111"/>
<rect x="381.10" y="481.03" width="1.30" height="1.30" fill="#111"/>
<rect x="380.12" y="447.75" width="1.30" height="1.30" fill="#111"/>
<rect x="387.81" y="464.39" width="1.30" height="1.30" fill="#111"/>
<line x1="422.75" y1="448.30" x2="422.75" y2="465.30" stroke="#333" stroke-width="0.9"/>
<line x1="422.75" y1="477.40" x2="422.75" y2="485.90" stroke="#333" stroke-width="0.9"/>
<line x1="415.32" y1="448.30" x2="430.17" y2="448.30" stroke="#777" stroke-width="0.9"/>
<line x1="415.32" y1="485.90" x2="430.17" y2="485.90" stroke="#777" stroke-width="0.9"/>
<rect x="407.90" y="465.30" width="29.70" height="12.10" fill="#E8BC1E"/>
<line x1="407.90" y1="468.90" x2="437.60" y2="468.90" stroke="#231d08" stroke-width="1.3"/>
<rect x="419.13" y="460.23" width="1.30" height="1.30" fill="#111"/>
<rect x="417.36" y="468.55" width="1.30" height="1.30" fill="#111"/>
<rect x="417.85" y="472.71" width="1.30" height="1.30" fill="#111"/>
<rect x="418.93" y="481.03" width="1.30" height="1.30" fill="#111"/>
<rect x="425.38" y="451.91" width="1.30" height="1.30" fill="#111"/>
<rect x="420.27" y="468.55" width="1.30" height="1.30" fill="#111"/>
<rect x="417.97" y="472.71" width="1.30" height="1.30" fill="#111"/>
<rect x="426.90" y="481.03" width="1.30" height="1.30" fill="#111"/>
<rect x="425.56" y="460.23" width="1.30" height="1.30" fill="#111"/>
<rect x="418.15" y="468.55" width="1.30" height="1.30" fill="#111"/>
<rect x="426.74" y="472.71" width="1.30" height="1.30" fill="#111"/>
<rect x="423.38" y="481.03" width="1.30" height="1.30" fill="#111"/>
<rect x="425.44" y="456.07" width="1.30" height="1.30" fill="#111"/>
<rect x="424.10" y="464.39" width="1.30" height="1.30" fill="#111"/>
<rect x="426.78" y="476.87" width="1.30" height="1.30" fill="#111"/>
<rect x="425.52" y="481.03" width="1.30" height="1.30" fill="#111"/>
<rect x="426.12" y="460.23" width="1.30" height="1.30" fill="#111"/>
<rect x="418.50" y="464.39" width="1.30" height="1.30" fill="#111"/>
<rect x="424.39" y="472.71" width="1.30" height="1.30" fill="#111"/>
<rect x="422.46" y="476.87" width="1.30" height="1.30" fill="#111"/>
<rect x="424.97" y="456.07" width="1.30" height="1.30" fill="#111"/>
<rect x="421.37" y="464.39" width="1.30" height="1.30" fill="#111"/>
<rect x="426.64" y="468.55" width="1.30" height="1.30" fill="#111"/>
<rect x="422.75" y="481.03" width="1.30" height="1.30" fill="#111"/>
<rect x="419.30" y="451.91" width="1.30" height="1.30" fill="#111"/>
<rect x="418.94" y="464.39" width="1.30" height="1.30" fill="#111"/>
<rect x="417.81" y="472.71" width="1.30" height="1.30" fill="#111"/>
<rect x="422.01" y="481.03" width="1.30" height="1.30" fill="#111"/>
<rect x="416.85" y="456.07" width="1.30" height="1.30" fill="#111"/>
<rect x="421.71" y="468.55" width="1.30" height="1.30" fill="#111"/>
<rect x="417.87" y="472.71" width="1.30" height="1.30" fill="#111"/>
<rect x="421.99" y="481.03" width="1.30" height="1.30" fill="#111"/>
<rect x="422.08" y="464.39" width="1.30" height="1.30" fill="#111"/>
<rect x="422.57" y="468.55" width="1.30" height="1.30" fill="#111"/>
<rect x="426.41" y="468.55" width="1.30" height="1.30" fill="#111"/>
<rect x="416.23" y="485.19" width="1.30" height="1.30" fill="#111"/>
<rect x="426.15" y="464.39" width="1.30" height="1.30" fill="#111"/>
<rect x="421.72" y="468.55" width="1.30" height="1.30" fill="#111"/>
<rect x="422.84" y="468.55" width="1.30" height="1.30" fill="#111"/>
<rect x="424.06" y="485.19" width="1.30" height="1.30" fill="#111"/>
<rect x="426.14" y="460.23" width="1.30" height="1.30" fill="#111"/>
<rect x="420.61" y="464.39" width="1.30" height="1.30" fill="#111"/>
<rect x="421.13" y="468.55" width="1.30" height="1.30" fill="#111"/>
<rect x="427.57" y="485.19" width="1.30" height="1.30" fill="#111"/>
<rect x="417.05" y="460.23" width="1.30" height="1.30" fill="#111"/>
<text x="404.14" y="505.00" font-size="8.6" text-anchor="middle" font-weight="normal" fill="#1a1a1a">poly-E</text>
<line x1="456.75" y1="414.60" x2="456.75" y2="423.50" stroke="#333" stroke-width="0.9"/>
<line x1="456.75" y1="439.80" x2="456.75" y2="460.70" stroke="#333" stroke-width="0.9"/>
<line x1="449.32" y1="414.60" x2="464.17" y2="414.60" stroke="#777" stroke-width="0.9"/>
<line x1="449.32" y1="460.70" x2="464.17" y2="460.70" stroke="#777" stroke-width="0.9"/>
<rect x="441.89" y="423.50" width="29.70" height="16.30" fill="#C6C4CA"/>
<line x1="441.89" y1="427.40" x2="471.60" y2="427.40" stroke="#222" stroke-width="1.3"/>
<rect x="454.18" y="418.63" width="1.30" height="1.30" fill="#111"/>
<rect x="460.39" y="426.95" width="1.30" height="1.30" fill="#111"/>
<rect x="454.50" y="426.95" width="1.30" height="1.30" fill="#111"/>
<rect x="455.79" y="451.91" width="1.30" height="1.30" fill="#111"/>
<rect x="456.40" y="418.63" width="1.30" height="1.30" fill="#111"/>
<rect x="459.31" y="426.95" width="1.30" height="1.30" fill="#111"/>
<rect x="452.66" y="431.11" width="1.30" height="1.30" fill="#111"/>
<rect x="455.33" y="460.23" width="1.30" height="1.30" fill="#111"/>
<rect x="455.17" y="418.63" width="1.30" height="1.30" fill="#111"/>
<rect x="456.74" y="422.79" width="1.30" height="1.30" fill="#111"/>
<rect x="459.98" y="439.43" width="1.30" height="1.30" fill="#111"/>
<rect x="453.63" y="439.43" width="1.30" height="1.30" fill="#111"/>
<rect x="459.99" y="418.63" width="1.30" height="1.30" fill="#111"/>
<rect x="454.95" y="426.95" width="1.30" height="1.30" fill="#111"/>
<rect x="456.14" y="489.35" width="1.30" height="1.30" fill="#111"/>
<line x1="494.32" y1="393.70" x2="494.32" y2="423.50" stroke="#333" stroke-width="0.9"/>
<line x1="494.32" y1="448.30" x2="494.32" y2="477.70" stroke="#333" stroke-width="0.9"/>
<line x1="486.90" y1="393.70" x2="501.75" y2="393.70" stroke="#777" stroke-width="0.9"/>
<line x1="486.90" y1="477.70" x2="501.75" y2="477.70" stroke="#777" stroke-width="0.9"/>
<rect x="479.47" y="423.50" width="29.70" height="24.80" fill="#E8BC1E"/>
<line x1="479.47" y1="439.80" x2="509.17" y2="439.80" stroke="#231d08" stroke-width="1.3"/>
<rect x="492.33" y="401.99" width="1.30" height="1.30" fill="#111"/>
<rect x="494.76" y="431.11" width="1.30" height="1.30" fill="#111"/>
<rect x="498.87" y="447.75" width="1.30" height="1.30" fill="#111"/>
<rect x="499.38" y="468.55" width="1.30" height="1.30" fill="#111"/>
<rect x="493.38" y="418.63" width="1.30" height="1.30" fill="#111"/>
<rect x="492.63" y="426.95" width="1.30" height="1.30" fill="#111"/>
<rect x="488.94" y="443.59" width="1.30" height="1.30" fill="#111"/>
<rect x="495.39" y="456.07" width="1.30" height="1.30" fill="#111"/>
<rect x="490.25" y="410.31" width="1.30" height="1.30" fill="#111"/>
<rect x="489.53" y="435.27" width="1.30" height="1.30" fill="#111"/>
<rect x="487.92" y="447.75" width="1.30" height="1.30" fill="#111"/>
<rect x="487.79" y="447.75" width="1.30" height="1.30" fill="#111"/>
<rect x="495.86" y="414.47" width="1.30" height="1.30" fill="#111"/>
<rect x="489.18" y="435.27" width="1.30" height="1.30" fill="#111"/>
<rect x="499.21" y="443.59" width="1.30" height="1.30" fill="#111"/>
<rect x="488.78" y="447.75" width="1.30" height="1.30" fill="#111"/>
<rect x="498.06" y="401.99" width="1.30" height="1.30" fill="#111"/>
<rect x="489.26" y="422.79" width="1.30" height="1.30" fill="#111"/>
<rect x="487.94" y="439.43" width="1.30" height="1.30" fill="#111"/>
<rect x="496.28" y="472.71" width="1.30" height="1.30" fill="#111"/>
<rect x="490.61" y="410.31" width="1.30" height="1.30" fill="#111"/>
<rect x="496.45" y="435.27" width="1.30" height="1.30" fill="#111"/>
<rect x="489.96" y="447.75" width="1.30" height="1.30" fill="#111"/>
<rect x="488.33" y="472.71" width="1.30" height="1.30" fill="#111"/>
<rect x="496.93" y="410.31" width="1.30" height="1.30" fill="#111"/>
<rect x="496.21" y="431.11" width="1.30" height="1.30" fill="#111"/>
<rect x="497.90" y="443.59" width="1.30" height="1.30" fill="#111"/>
<rect x="496.40" y="468.55" width="1.30" height="1.30" fill="#111"/>
<rect x="488.73" y="410.31" width="1.30" height="1.30" fill="#111"/>
<rect x="495.20" y="435.27" width="1.30" height="1.30" fill="#111"/>
<rect x="496.16" y="439.43" width="1.30" height="1.30" fill="#111"/>
<rect x="493.20" y="468.55" width="1.30" height="1.30" fill="#111"/>
<rect x="498.81" y="406.15" width="1.30" height="1.30" fill="#111"/>
<rect x="490.75" y="435.27" width="1.30" height="1.30" fill="#111"/>
<rect x="499.19" y="439.43" width="1.30" height="1.30" fill="#111"/>
<rect x="496.25" y="451.91" width="1.30" height="1.30" fill="#111"/>
<rect x="487.87" y="393.67" width="1.30" height="1.30" fill="#111"/>
<rect x="487.91" y="435.27" width="1.30" height="1.30" fill="#111"/>
<rect x="495.46" y="447.75" width="1.30" height="1.30" fill="#111"/>
<rect x="497.44" y="468.55" width="1.30" height="1.30" fill="#111"/>
<rect x="488.68" y="401.99" width="1.30" height="1.30" fill="#111"/>
<rect x="491.43" y="435.27" width="1.30" height="1.30" fill="#111"/>
<rect x="496.40" y="447.75" width="1.30" height="1.30" fill="#111"/>
<rect x="489.70" y="464.39" width="1.30" height="1.30" fill="#111"/>
<rect x="497.96" y="401.99" width="1.30" height="1.30" fill="#111"/>
<rect x="493.51" y="426.95" width="1.30" height="1.30" fill="#111"/>
<rect x="488.44" y="443.59" width="1.30" height="1.30" fill="#111"/>
<rect x="492.10" y="456.07" width="1.30" height="1.30" fill="#111"/>
<rect x="494.56" y="406.15" width="1.30" height="1.30" fill="#111"/>
<rect x="492.94" y="435.27" width="1.30" height="1.30" fill="#111"/>
<rect x="495.77" y="447.75" width="1.30" height="1.30" fill="#111"/>
<rect x="489.45" y="447.75" width="1.30" height="1.30" fill="#111"/>
<rect x="497.21" y="410.31" width="1.30" height="1.30" fill="#111"/>
<rect x="492.05" y="422.79" width="1.30" height="1.30" fill="#111"/>
<rect x="495.39" y="439.43" width="1.30" height="1.30" fill="#111"/>
<rect x="495.21" y="472.71" width="1.30" height="1.30" fill="#111"/>
<rect x="492.70" y="410.31" width="1.30" height="1.30" fill="#111"/>
<rect x="492.31" y="439.43" width="1.30" height="1.30" fill="#111"/>
<rect x="497.07" y="443.59" width="1.30" height="1.30" fill="#111"/>
<rect x="498.96" y="447.75" width="1.30" height="1.30" fill="#111"/>
<text x="475.71" y="505.00" font-size="8.6" text-anchor="middle" font-weight="normal" fill="#1a1a1a">ortho-E</text>
<rect x="225.50" y="353.50" width="286.00" height="139.00" fill="none" stroke="#000" stroke-width="1.25"/>
<line x1="222.00" y1="490.00" x2="225.20" y2="490.00" stroke="#000" stroke-width="0.9"/>
<text x="219.40" y="492.40" font-size="9.5" text-anchor="end" font-weight="normal" fill="#1a1a1a">0</text>
<line x1="222.00" y1="469.20" x2="225.20" y2="469.20" stroke="#000" stroke-width="0.9"/>
<text x="219.40" y="471.60" font-size="9.5" text-anchor="end" font-weight="normal" fill="#1a1a1a">5</text>
<line x1="222.00" y1="448.40" x2="225.20" y2="448.40" stroke="#000" stroke-width="0.9"/>
<text x="219.40" y="450.80" font-size="9.5" text-anchor="end" font-weight="normal" fill="#1a1a1a">10</text>
<line x1="222.00" y1="427.60" x2="225.20" y2="427.60" stroke="#000" stroke-width="0.9"/>
<text x="219.40" y="430.00" font-size="9.5" text-anchor="end" font-weight="normal" fill="#1a1a1a">15</text>
<line x1="222.00" y1="406.80" x2="225.20" y2="406.80" stroke="#000" stroke-width="0.9"/>
<text x="219.40" y="409.20" font-size="9.5" text-anchor="end" font-weight="normal" fill="#1a1a1a">20</text>
<line x1="222.00" y1="386.00" x2="225.20" y2="386.00" stroke="#000" stroke-width="0.9"/>
<text x="219.40" y="388.40" font-size="9.5" text-anchor="end" font-weight="normal" fill="#1a1a1a">25</text>
<line x1="222.00" y1="365.20" x2="225.20" y2="365.20" stroke="#000" stroke-width="0.9"/>
<text x="219.40" y="367.60" font-size="9.5" text-anchor="end" font-weight="normal" fill="#1a1a1a">30</text>
<text x="203.00" y="423.00" font-size="9.6" text-anchor="middle" font-weight="normal" fill="#111" transform="rotate(-90 203.00 423.00)" textLength="45.1" lengthAdjust="spacingAndGlyphs" stroke="#111" stroke-width="0.3">% of BM cells</text>
<rect x="231.50" y="359.00" width="10.20" height="6.60" fill="#C6C4CA"/>
<text x="244.60" y="365.20" font-size="9.0" text-anchor="start" font-weight="normal" fill="#1a1a1a">CH</text>
<rect x="231.50" y="372.00" width="10.20" height="6.60" fill="#E8BC1E"/>
<text x="244.60" y="378.20" font-size="9.0" text-anchor="start" font-weight="normal" fill="#1a1a1a">NCH</text>
<line x1="282.86" y1="525.60" x2="282.86" y2="664.80" stroke="#c2c2c2" stroke-width="1.2" stroke-dasharray="2.1 2.47"/>
<line x1="340.22" y1="525.60" x2="340.22" y2="664.80" stroke="#c2c2c2" stroke-width="1.2" stroke-dasharray="2.1 2.47"/>
<line x1="397.58" y1="525.60" x2="397.58" y2="664.80" stroke="#c2c2c2" stroke-width="1.2" stroke-dasharray="2.1 2.47"/>
<line x1="454.94" y1="525.60" x2="454.94" y2="664.80" stroke="#c2c2c2" stroke-width="1.2" stroke-dasharray="2.1 2.47"/>
<line x1="238.98" y1="657.81" x2="238.98" y2="659.90" stroke="#333" stroke-width="0.9"/>
<line x1="238.98" y1="662.00" x2="238.98" y2="662.00" stroke="#333" stroke-width="0.9"/>
<line x1="233.03" y1="657.81" x2="244.93" y2="657.81" stroke="#777" stroke-width="0.9"/>
<line x1="233.03" y1="662.00" x2="244.93" y2="662.00" stroke="#777" stroke-width="0.9"/>
<rect x="227.08" y="659.90" width="23.80" height="2.10" fill="#C6C4CA"/>
<line x1="227.08" y1="661.90" x2="250.88" y2="661.90" stroke="#222" stroke-width="1.3"/>
<rect x="241.04" y="655.07" width="1.30" height="1.30" fill="#111"/>
<rect x="238.97" y="657.16" width="1.30" height="1.30" fill="#111"/>
<rect x="236.35" y="659.25" width="1.30" height="1.30" fill="#111"/>
<rect x="234.15" y="659.25" width="1.30" height="1.30" fill="#111"/>
<rect x="242.84" y="661.35" width="1.30" height="1.30" fill="#111"/>
<rect x="240.27" y="661.35" width="1.30" height="1.30" fill="#111"/>
<rect x="241.45" y="661.35" width="1.30" height="1.30" fill="#111"/>
<line x1="269.09" y1="657.81" x2="269.09" y2="659.90" stroke="#333" stroke-width="0.9"/>
<line x1="269.09" y1="662.00" x2="269.09" y2="662.00" stroke="#333" stroke-width="0.9"/>
<line x1="263.14" y1="657.81" x2="275.04" y2="657.81" stroke="#777" stroke-width="0.9"/>
<line x1="263.14" y1="662.00" x2="275.04" y2="662.00" stroke="#777" stroke-width="0.9"/>
<rect x="257.19" y="659.90" width="23.80" height="2.10" fill="#E8BC1E"/>
<line x1="257.19" y1="661.90" x2="281.00" y2="661.90" stroke="#231d08" stroke-width="1.3"/>
<rect x="266.84" y="652.97" width="1.30" height="1.30" fill="#111"/>
<rect x="269.45" y="655.07" width="1.30" height="1.30" fill="#111"/>
<rect x="272.99" y="657.16" width="1.30" height="1.30" fill="#111"/>
<rect x="271.60" y="657.16" width="1.30" height="1.30" fill="#111"/>
<rect x="269.41" y="659.25" width="1.30" height="1.30" fill="#111"/>
<rect x="266.62" y="659.25" width="1.30" height="1.30" fill="#111"/>
<rect x="267.76" y="659.25" width="1.30" height="1.30" fill="#111"/>
<rect x="272.14" y="661.35" width="1.30" height="1.30" fill="#111"/>
<rect x="267.27" y="661.35" width="1.30" height="1.30" fill="#111"/>
<rect x="270.20" y="661.35" width="1.30" height="1.30" fill="#111"/>
<rect x="269.41" y="661.35" width="1.30" height="1.30" fill="#111"/>
<text x="254.18" y="677.10" font-size="8.6" text-anchor="middle" font-weight="normal" fill="#1a1a1a">Mb</text>
<line x1="296.34" y1="653.62" x2="296.34" y2="658.23" stroke="#333" stroke-width="0.9"/>
<line x1="296.34" y1="661.58" x2="296.34" y2="662.00" stroke="#333" stroke-width="0.9"/>
<line x1="290.39" y1="653.62" x2="302.29" y2="653.62" stroke="#777" stroke-width="0.9"/>
<line x1="290.39" y1="662.00" x2="302.29" y2="662.00" stroke="#777" stroke-width="0.9"/>
<rect x="284.44" y="658.23" width="23.80" height="3.35" fill="#C6C4CA"/>
<line x1="284.44" y1="660.22" x2="308.24" y2="660.22" stroke="#222" stroke-width="1.3"/>
<rect x="299.46" y="652.97" width="1.30" height="1.30" fill="#111"/>
<rect x="298.62" y="655.07" width="1.30" height="1.30" fill="#111"/>
<rect x="293.63" y="657.16" width="1.30" height="1.30" fill="#111"/>
<rect x="290.94" y="659.25" width="1.30" height="1.30" fill="#111"/>
<rect x="293.43" y="659.25" width="1.30" height="1.30" fill="#111"/>
<rect x="294.95" y="659.25" width="1.30" height="1.30" fill="#111"/>
<rect x="296.51" y="661.35" width="1.30" height="1.30" fill="#111"/>
<rect x="298.70" y="661.35" width="1.30" height="1.30" fill="#111"/>
<line x1="326.45" y1="655.72" x2="326.45" y2="657.81" stroke="#333" stroke-width="0.9"/>
<line x1="326.45" y1="662.00" x2="326.45" y2="662.00" stroke="#333" stroke-width="0.9"/>
<line x1="320.50" y1="655.72" x2="332.40" y2="655.72" stroke="#777" stroke-width="0.9"/>
<line x1="320.50" y1="662.00" x2="332.40" y2="662.00" stroke="#777" stroke-width="0.9"/>
<rect x="314.55" y="657.81" width="23.80" height="4.19" fill="#E8BC1E"/>
<line x1="314.55" y1="660.22" x2="338.36" y2="660.22" stroke="#231d08" stroke-width="1.3"/>
<rect x="329.49" y="655.07" width="1.30" height="1.30" fill="#111"/>
<rect x="321.45" y="655.07" width="1.30" height="1.30" fill="#111"/>
<rect x="328.98" y="657.16" width="1.30" height="1.30" fill="#111"/>
<rect x="328.77" y="657.16" width="1.30" height="1.30" fill="#111"/>
<rect x="329.30" y="657.16" width="1.30" height="1.30" fill="#111"/>
<rect x="326.49" y="659.25" width="1.30" height="1.30" fill="#111"/>
<rect x="323.65" y="659.25" width="1.30" height="1.30" fill="#111"/>
<rect x="329.15" y="659.25" width="1.30" height="1.30" fill="#111"/>
<rect x="328.73" y="659.25" width="1.30" height="1.30" fill="#111"/>
<rect x="327.56" y="661.35" width="1.30" height="1.30" fill="#111"/>
<rect x="329.74" y="661.35" width="1.30" height="1.30" fill="#111"/>
<rect x="324.35" y="661.35" width="1.30" height="1.30" fill="#111"/>
<rect x="321.85" y="661.35" width="1.30" height="1.30" fill="#111"/>
<text x="311.54" y="677.10" font-size="8.6" text-anchor="middle" font-weight="normal" fill="#1a1a1a">Pm</text>
<line x1="353.70" y1="624.80" x2="353.70" y2="634.30" stroke="#333" stroke-width="0.9"/>
<line x1="353.70" y1="644.10" x2="353.70" y2="659.80" stroke="#333" stroke-width="0.9"/>
<line x1="347.75" y1="624.80" x2="359.65" y2="624.80" stroke="#777" stroke-width="0.9"/>
<line x1="347.75" y1="659.80" x2="359.65" y2="659.80" stroke="#777" stroke-width="0.9"/>
<rect x="341.80" y="634.30" width="23.80" height="9.80" fill="#C6C4CA"/>
<line x1="341.80" y1="637.60" x2="365.60" y2="637.60" stroke="#222" stroke-width="1.3"/>
<rect x="349.12" y="629.93" width="1.30" height="1.30" fill="#111"/>
<rect x="355.97" y="636.21" width="1.30" height="1.30" fill="#111"/>
<rect x="355.64" y="638.31" width="1.30" height="1.30" fill="#111"/>
<rect x="350.51" y="655.07" width="1.30" height="1.30" fill="#111"/>
<rect x="353.81" y="632.02" width="1.30" height="1.30" fill="#111"/>
<rect x="356.83" y="634.12" width="1.30" height="1.30" fill="#111"/>
<rect x="356.72" y="640.40" width="1.30" height="1.30" fill="#111"/>
<rect x="353.26" y="655.07" width="1.30" height="1.30" fill="#111"/>
<rect x="352.83" y="627.83" width="1.30" height="1.30" fill="#111"/>
<rect x="353.90" y="634.12" width="1.30" height="1.30" fill="#111"/>
<rect x="350.09" y="638.31" width="1.30" height="1.30" fill="#111"/>
<rect x="350.12" y="655.07" width="1.30" height="1.30" fill="#111"/>
<rect x="350.01" y="632.02" width="1.30" height="1.30" fill="#111"/>
<rect x="354.96" y="636.21" width="1.30" height="1.30" fill="#111"/>
<rect x="351.74" y="661.35" width="1.30" height="1.30" fill="#111"/>
<line x1="383.81" y1="626.80" x2="383.81" y2="633.30" stroke="#333" stroke-width="0.9"/>
<line x1="383.81" y1="643.10" x2="383.81" y2="657.90" stroke="#333" stroke-width="0.9"/>
<line x1="377.86" y1="626.80" x2="389.76" y2="626.80" stroke="#777" stroke-width="0.9"/>
<line x1="377.86" y1="657.90" x2="389.76" y2="657.90" stroke="#777" stroke-width="0.9"/>
<rect x="371.91" y="633.30" width="23.80" height="9.80" fill="#E8BC1E"/>
<line x1="371.91" y1="638.20" x2="395.72" y2="638.20" stroke="#231d08" stroke-width="1.3"/>
<rect x="379.92" y="629.93" width="1.30" height="1.30" fill="#111"/>
<rect x="387.60" y="634.12" width="1.30" height="1.30" fill="#111"/>
<rect x="387.85" y="640.40" width="1.30" height="1.30" fill="#111"/>
<rect x="380.51" y="644.59" width="1.30" height="1.30" fill="#111"/>
<rect x="378.77" y="625.74" width="1.30" height="1.30" fill="#111"/>
<rect x="380.84" y="638.31" width="1.30" height="1.30" fill="#111"/>
<rect x="381.75" y="640.40" width="1.30" height="1.30" fill="#111"/>
<rect x="387.00" y="644.59" width="1.30" height="1.30" fill="#111"/>
<rect x="387.02" y="629.93" width="1.30" height="1.30" fill="#111"/>
<rect x="386.37" y="636.21" width="1.30" height="1.30" fill="#111"/>
<rect x="378.85" y="638.31" width="1.30" height="1.30" fill="#111"/>
<rect x="385.89" y="650.88" width="1.30" height="1.30" fill="#111"/>
<rect x="385.16" y="627.83" width="1.30" height="1.30" fill="#111"/>
<rect x="384.56" y="636.21" width="1.30" height="1.30" fill="#111"/>
<rect x="387.79" y="638.31" width="1.30" height="1.30" fill="#111"/>
<rect x="378.93" y="642.50" width="1.30" height="1.30" fill="#111"/>
<rect x="379.78" y="632.02" width="1.30" height="1.30" fill="#111"/>
<rect x="385.59" y="636.21" width="1.30" height="1.30" fill="#111"/>
<rect x="387.35" y="640.40" width="1.30" height="1.30" fill="#111"/>
<rect x="384.85" y="650.88" width="1.30" height="1.30" fill="#111"/>
<rect x="381.25" y="627.83" width="1.30" height="1.30" fill="#111"/>
<rect x="384.03" y="636.21" width="1.30" height="1.30" fill="#111"/>
<rect x="385.62" y="640.40" width="1.30" height="1.30" fill="#111"/>
<rect x="379.41" y="657.16" width="1.30" height="1.30" fill="#111"/>
<rect x="381.49" y="632.02" width="1.30" height="1.30" fill="#111"/>
<rect x="380.85" y="636.21" width="1.30" height="1.30" fill="#111"/>
<rect x="379.58" y="642.50" width="1.30" height="1.30" fill="#111"/>
<rect x="382.99" y="646.69" width="1.30" height="1.30" fill="#111"/>
<rect x="380.01" y="625.74" width="1.30" height="1.30" fill="#111"/>
<rect x="380.67" y="634.12" width="1.30" height="1.30" fill="#111"/>
<rect x="379.77" y="638.31" width="1.30" height="1.30" fill="#111"/>
<rect x="384.86" y="644.59" width="1.30" height="1.30" fill="#111"/>
<rect x="378.52" y="625.74" width="1.30" height="1.30" fill="#111"/>
<rect x="385.23" y="636.21" width="1.30" height="1.30" fill="#111"/>
<rect x="380.26" y="642.50" width="1.30" height="1.30" fill="#111"/>
<rect x="378.75" y="648.78" width="1.30" height="1.30" fill="#111"/>
<rect x="387.24" y="632.02" width="1.30" height="1.30" fill="#111"/>
<rect x="380.50" y="636.21" width="1.30" height="1.30" fill="#111"/>
<rect x="387.30" y="638.31" width="1.30" height="1.30" fill="#111"/>
<rect x="386.66" y="650.88" width="1.30" height="1.30" fill="#111"/>
<rect x="386.86" y="627.83" width="1.30" height="1.30" fill="#111"/>
<rect x="379.73" y="634.12" width="1.30" height="1.30" fill="#111"/>
<rect x="382.66" y="642.50" width="1.30" height="1.30" fill="#111"/>
<rect x="379.33" y="646.69" width="1.30" height="1.30" fill="#111"/>
<rect x="387.25" y="629.93" width="1.30" height="1.30" fill="#111"/>
<rect x="386.42" y="636.21" width="1.30" height="1.30" fill="#111"/>
<rect x="384.39" y="642.50" width="1.30" height="1.30" fill="#111"/>
<rect x="382.71" y="652.97" width="1.30" height="1.30" fill="#111"/>
<rect x="381.64" y="627.83" width="1.30" height="1.30" fill="#111"/>
<rect x="386.24" y="634.12" width="1.30" height="1.30" fill="#111"/>
<text x="368.90" y="677.10" font-size="8.6" text-anchor="middle" font-weight="normal" fill="#1a1a1a">My</text>
<line x1="411.06" y1="630.70" x2="411.06" y2="637.60" stroke="#333" stroke-width="0.9"/>
<line x1="411.06" y1="644.10" x2="411.06" y2="651.60" stroke="#333" stroke-width="0.9"/>
<line x1="405.11" y1="630.70" x2="417.01" y2="630.70" stroke="#777" stroke-width="0.9"/>
<line x1="405.11" y1="651.60" x2="417.01" y2="651.60" stroke="#777" stroke-width="0.9"/>
<rect x="399.16" y="637.60" width="23.80" height="6.50" fill="#C6C4CA"/>
<line x1="399.16" y1="640.90" x2="422.96" y2="640.90" stroke="#222" stroke-width="1.3"/>
<rect x="408.23" y="634.12" width="1.30" height="1.30" fill="#111"/>
<rect x="413.64" y="638.31" width="1.30" height="1.30" fill="#111"/>
<rect x="408.83" y="640.40" width="1.30" height="1.30" fill="#111"/>
<rect x="407.25" y="644.59" width="1.30" height="1.30" fill="#111"/>
<rect x="410.32" y="629.93" width="1.30" height="1.30" fill="#111"/>
<rect x="408.68" y="638.31" width="1.30" height="1.30" fill="#111"/>
<rect x="414.25" y="642.50" width="1.30" height="1.30" fill="#111"/>
<rect x="406.74" y="644.59" width="1.30" height="1.30" fill="#111"/>
<rect x="414.97" y="636.21" width="1.30" height="1.30" fill="#111"/>
<rect x="406.19" y="638.31" width="1.30" height="1.30" fill="#111"/>
<rect x="414.17" y="642.50" width="1.30" height="1.30" fill="#111"/>
<rect x="412.01" y="644.59" width="1.30" height="1.30" fill="#111"/>
<rect x="407.66" y="661.35" width="1.30" height="1.30" fill="#111"/>
<line x1="441.17" y1="624.80" x2="441.17" y2="631.00" stroke="#333" stroke-width="0.9"/>
<line x1="441.17" y1="643.10" x2="441.17" y2="657.90" stroke="#333" stroke-width="0.9"/>
<line x1="435.22" y1="624.80" x2="447.12" y2="624.80" stroke="#777" stroke-width="0.9"/>
<line x1="435.22" y1="657.90" x2="447.12" y2="657.90" stroke="#777" stroke-width="0.9"/>
<rect x="429.27" y="631.00" width="23.80" height="12.10" fill="#E8BC1E"/>
<line x1="429.27" y1="636.90" x2="453.08" y2="636.90" stroke="#231d08" stroke-width="1.3"/>
<rect x="443.78" y="627.83" width="1.30" height="1.30" fill="#111"/>
<rect x="443.99" y="632.02" width="1.30" height="1.30" fill="#111"/>
<rect x="440.46" y="638.31" width="1.30" height="1.30" fill="#111"/>
<rect x="435.91" y="644.59" width="1.30" height="1.30" fill="#111"/>
<rect x="444.43" y="625.74" width="1.30" height="1.30" fill="#111"/>
<rect x="440.30" y="636.21" width="1.30" height="1.30" fill="#111"/>
<rect x="444.07" y="642.50" width="1.30" height="1.30" fill="#111"/>
<rect x="438.30" y="657.16" width="1.30" height="1.30" fill="#111"/>
<rect x="437.53" y="625.74" width="1.30" height="1.30" fill="#111"/>
<rect x="443.68" y="632.02" width="1.30" height="1.30" fill="#111"/>
<rect x="439.26" y="642.50" width="1.30" height="1.30" fill="#111"/>
<rect x="437.32" y="642.50" width="1.30" height="1.30" fill="#111"/>
<rect x="439.30" y="627.83" width="1.30" height="1.30" fill="#111"/>
<rect x="441.43" y="632.02" width="1.30" height="1.30" fill="#111"/>
<rect x="435.81" y="642.50" width="1.30" height="1.30" fill="#111"/>
<rect x="440.71" y="642.50" width="1.30" height="1.30" fill="#111"/>
<rect x="440.01" y="629.93" width="1.30" height="1.30" fill="#111"/>
<rect x="440.67" y="632.02" width="1.30" height="1.30" fill="#111"/>
<rect x="436.91" y="636.21" width="1.30" height="1.30" fill="#111"/>
<rect x="442.57" y="642.50" width="1.30" height="1.30" fill="#111"/>
<rect x="443.54" y="629.93" width="1.30" height="1.30" fill="#111"/>
<rect x="444.00" y="634.12" width="1.30" height="1.30" fill="#111"/>
<rect x="438.82" y="638.31" width="1.30" height="1.30" fill="#111"/>
<rect x="442.53" y="648.78" width="1.30" height="1.30" fill="#111"/>
<rect x="439.39" y="629.93" width="1.30" height="1.30" fill="#111"/>
<rect x="442.92" y="632.02" width="1.30" height="1.30" fill="#111"/>
<rect x="436.35" y="640.40" width="1.30" height="1.30" fill="#111"/>
<rect x="444.07" y="644.59" width="1.30" height="1.30" fill="#111"/>
<rect x="444.85" y="625.74" width="1.30" height="1.30" fill="#111"/>
<rect x="440.47" y="634.12" width="1.30" height="1.30" fill="#111"/>
<rect x="440.65" y="640.40" width="1.30" height="1.30" fill="#111"/>
<rect x="440.81" y="644.59" width="1.30" height="1.30" fill="#111"/>
<rect x="440.88" y="623.64" width="1.30" height="1.30" fill="#111"/>
<rect x="435.96" y="629.93" width="1.30" height="1.30" fill="#111"/>
<rect x="444.97" y="640.40" width="1.30" height="1.30" fill="#111"/>
<rect x="437.89" y="648.78" width="1.30" height="1.30" fill="#111"/>
<rect x="437.50" y="625.74" width="1.30" height="1.30" fill="#111"/>
<rect x="436.74" y="632.02" width="1.30" height="1.30" fill="#111"/>
<rect x="438.15" y="640.40" width="1.30" height="1.30" fill="#111"/>
<rect x="443.54" y="652.97" width="1.30" height="1.30" fill="#111"/>
<rect x="436.05" y="629.93" width="1.30" height="1.30" fill="#111"/>
<rect x="436.68" y="634.12" width="1.30" height="1.30" fill="#111"/>
<rect x="442.42" y="638.31" width="1.30" height="1.30" fill="#111"/>
<rect x="437.62" y="642.50" width="1.30" height="1.30" fill="#111"/>
<rect x="435.93" y="627.83" width="1.30" height="1.30" fill="#111"/>
<rect x="441.47" y="632.02" width="1.30" height="1.30" fill="#111"/>
<rect x="441.25" y="640.40" width="1.30" height="1.30" fill="#111"/>
<rect x="440.74" y="642.50" width="1.30" height="1.30" fill="#111"/>
<rect x="442.45" y="629.93" width="1.30" height="1.30" fill="#111"/>
<rect x="436.74" y="632.02" width="1.30" height="1.30" fill="#111"/>
<rect x="444.04" y="608.98" width="1.30" height="1.30" fill="#111"/>
<text x="426.26" y="677.10" font-size="8.6" text-anchor="middle" font-weight="normal" fill="#1a1a1a">Mm</text>
<line x1="468.42" y1="586.60" x2="468.42" y2="591.20" stroke="#333" stroke-width="0.9"/>
<line x1="468.42" y1="605.90" x2="468.42" y2="620.30" stroke="#333" stroke-width="0.9"/>
<line x1="462.47" y1="586.60" x2="474.37" y2="586.60" stroke="#777" stroke-width="0.9"/>
<line x1="462.47" y1="620.30" x2="474.37" y2="620.30" stroke="#777" stroke-width="0.9"/>
<rect x="456.52" y="591.20" width="23.80" height="14.70" fill="#C6C4CA"/>
<line x1="456.52" y1="595.10" x2="480.32" y2="595.10" stroke="#222" stroke-width="1.3"/>
<rect x="468.46" y="590.12" width="1.30" height="1.30" fill="#111"/>
<rect x="470.12" y="590.12" width="1.30" height="1.30" fill="#111"/>
<rect x="464.57" y="596.40" width="1.30" height="1.30" fill="#111"/>
<rect x="470.87" y="613.17" width="1.30" height="1.30" fill="#111"/>
<rect x="471.94" y="588.02" width="1.30" height="1.30" fill="#111"/>
<rect x="466.71" y="592.22" width="1.30" height="1.30" fill="#111"/>
<rect x="467.01" y="596.40" width="1.30" height="1.30" fill="#111"/>
<rect x="471.00" y="611.07" width="1.30" height="1.30" fill="#111"/>
<rect x="468.01" y="585.93" width="1.30" height="1.30" fill="#111"/>
<rect x="466.78" y="592.22" width="1.30" height="1.30" fill="#111"/>
<rect x="471.97" y="604.78" width="1.30" height="1.30" fill="#111"/>
<rect x="470.41" y="606.88" width="1.30" height="1.30" fill="#111"/>
<rect x="466.23" y="535.65" width="1.30" height="1.30" fill="#111"/>
<rect x="465.30" y="556.60" width="1.30" height="1.30" fill="#111"/>
<line x1="498.53" y1="568.00" x2="498.53" y2="589.20" stroke="#333" stroke-width="0.9"/>
<line x1="498.53" y1="605.90" x2="498.53" y2="613.70" stroke="#333" stroke-width="0.9"/>
<line x1="492.58" y1="568.00" x2="504.48" y2="568.00" stroke="#777" stroke-width="0.9"/>
<line x1="492.58" y1="613.70" x2="504.48" y2="613.70" stroke="#777" stroke-width="0.9"/>
<rect x="486.63" y="589.20" width="23.80" height="16.70" fill="#E8BC1E"/>
<line x1="486.63" y1="597.70" x2="510.44" y2="597.70" stroke="#231d08" stroke-width="1.3"/>
<rect x="494.54" y="575.46" width="1.30" height="1.30" fill="#111"/>
<rect x="494.30" y="592.22" width="1.30" height="1.30" fill="#111"/>
<rect x="494.37" y="604.78" width="1.30" height="1.30" fill="#111"/>
<rect x="495.92" y="611.07" width="1.30" height="1.30" fill="#111"/>
<rect x="496.99" y="585.93" width="1.30" height="1.30" fill="#111"/>
<rect x="495.87" y="596.40" width="1.30" height="1.30" fill="#111"/>
<rect x="495.44" y="604.78" width="1.30" height="1.30" fill="#111"/>
<rect x="493.96" y="604.78" width="1.30" height="1.30" fill="#111"/>
<rect x="498.32" y="577.55" width="1.30" height="1.30" fill="#111"/>
<rect x="501.12" y="596.40" width="1.30" height="1.30" fill="#111"/>
<rect x="498.93" y="604.78" width="1.30" height="1.30" fill="#111"/>
<rect x="498.55" y="606.88" width="1.30" height="1.30" fill="#111"/>
<rect x="499.32" y="575.46" width="1.30" height="1.30" fill="#111"/>
<rect x="495.04" y="594.31" width="1.30" height="1.30" fill="#111"/>
<rect x="499.89" y="600.60" width="1.30" height="1.30" fill="#111"/>
<rect x="497.51" y="608.98" width="1.30" height="1.30" fill="#111"/>
<rect x="498.34" y="569.17" width="1.30" height="1.30" fill="#111"/>
<rect x="498.96" y="592.22" width="1.30" height="1.30" fill="#111"/>
<rect x="497.59" y="600.60" width="1.30" height="1.30" fill="#111"/>
<rect x="496.08" y="604.78" width="1.30" height="1.30" fill="#111"/>
<rect x="495.43" y="571.26" width="1.30" height="1.30" fill="#111"/>
<rect x="495.23" y="596.40" width="1.30" height="1.30" fill="#111"/>
<rect x="498.00" y="602.69" width="1.30" height="1.30" fill="#111"/>
<rect x="496.77" y="613.17" width="1.30" height="1.30" fill="#111"/>
<rect x="498.70" y="581.74" width="1.30" height="1.30" fill="#111"/>
<rect x="493.24" y="596.40" width="1.30" height="1.30" fill="#111"/>
<rect x="496.48" y="604.78" width="1.30" height="1.30" fill="#111"/>
<rect x="501.33" y="613.17" width="1.30" height="1.30" fill="#111"/>
<rect x="495.39" y="567.08" width="1.30" height="1.30" fill="#111"/>
<rect x="498.42" y="594.31" width="1.30" height="1.30" fill="#111"/>
<rect x="497.80" y="598.50" width="1.30" height="1.30" fill="#111"/>
<rect x="495.83" y="611.07" width="1.30" height="1.30" fill="#111"/>
<rect x="502.53" y="573.36" width="1.30" height="1.30" fill="#111"/>
<rect x="495.94" y="592.22" width="1.30" height="1.30" fill="#111"/>
<rect x="500.47" y="604.78" width="1.30" height="1.30" fill="#111"/>
<rect x="494.63" y="611.07" width="1.30" height="1.30" fill="#111"/>
<rect x="493.76" y="573.36" width="1.30" height="1.30" fill="#111"/>
<rect x="501.42" y="592.22" width="1.30" height="1.30" fill="#111"/>
<rect x="497.31" y="600.60" width="1.30" height="1.30" fill="#111"/>
<rect x="493.71" y="613.17" width="1.30" height="1.30" fill="#111"/>
<rect x="496.82" y="573.36" width="1.30" height="1.30" fill="#111"/>
<rect x="497.31" y="590.12" width="1.30" height="1.30" fill="#111"/>
<rect x="500.13" y="602.69" width="1.30" height="1.30" fill="#111"/>
<rect x="494.16" y="606.88" width="1.30" height="1.30" fill="#111"/>
<rect x="495.27" y="579.64" width="1.30" height="1.30" fill="#111"/>
<rect x="502.26" y="596.40" width="1.30" height="1.30" fill="#111"/>
<rect x="500.16" y="600.60" width="1.30" height="1.30" fill="#111"/>
<rect x="494.59" y="606.88" width="1.30" height="1.30" fill="#111"/>
<rect x="496.33" y="577.55" width="1.30" height="1.30" fill="#111"/>
<rect x="496.48" y="592.22" width="1.30" height="1.30" fill="#111"/>
<rect x="499.55" y="550.32" width="1.30" height="1.30" fill="#111"/>
<rect x="498.99" y="560.79" width="1.30" height="1.30" fill="#111"/>
<text x="483.62" y="677.10" font-size="8.6" text-anchor="middle" font-weight="normal" fill="#1a1a1a">Ne</text>
<rect x="225.50" y="525.50" width="287.00" height="139.00" fill="none" stroke="#000" stroke-width="1.25"/>
<line x1="222.30" y1="662.00" x2="225.50" y2="662.00" stroke="#000" stroke-width="0.9"/>
<text x="219.70" y="664.40" font-size="9.5" text-anchor="end" font-weight="normal" fill="#1a1a1a">0</text>
<line x1="222.30" y1="641.05" x2="225.50" y2="641.05" stroke="#000" stroke-width="0.9"/>
<text x="219.70" y="643.45" font-size="9.5" text-anchor="end" font-weight="normal" fill="#1a1a1a">10</text>
<line x1="222.30" y1="620.10" x2="225.50" y2="620.10" stroke="#000" stroke-width="0.9"/>
<text x="219.70" y="622.50" font-size="9.5" text-anchor="end" font-weight="normal" fill="#1a1a1a">20</text>
<line x1="222.30" y1="599.15" x2="225.50" y2="599.15" stroke="#000" stroke-width="0.9"/>
<text x="219.70" y="601.55" font-size="9.5" text-anchor="end" font-weight="normal" fill="#1a1a1a">30</text>
<line x1="222.30" y1="578.20" x2="225.50" y2="578.20" stroke="#000" stroke-width="0.9"/>
<text x="219.70" y="580.60" font-size="9.5" text-anchor="end" font-weight="normal" fill="#1a1a1a">40</text>
<line x1="222.30" y1="557.25" x2="225.50" y2="557.25" stroke="#000" stroke-width="0.9"/>
<text x="219.70" y="559.65" font-size="9.5" text-anchor="end" font-weight="normal" fill="#1a1a1a">50</text>
<line x1="222.30" y1="536.30" x2="225.50" y2="536.30" stroke="#000" stroke-width="0.9"/>
<text x="219.70" y="538.70" font-size="9.5" text-anchor="end" font-weight="normal" fill="#1a1a1a">60</text>
<text x="202.80" y="595.00" font-size="9.6" text-anchor="middle" font-weight="normal" fill="#111" transform="rotate(-90 202.80 595.00)" textLength="44.7" lengthAdjust="spacingAndGlyphs" stroke="#111" stroke-width="0.3">% of BM cells</text>
<rect x="232.50" y="533.60" width="10.20" height="6.60" fill="#C6C4CA"/>
<text x="245.60" y="539.80" font-size="9.0" text-anchor="start" font-weight="normal" fill="#1a1a1a">CH</text>
<rect x="232.50" y="546.70" width="10.20" height="6.60" fill="#E8BC1E"/>
<text x="245.60" y="552.90" font-size="9.0" text-anchor="start" font-weight="normal" fill="#1a1a1a">NCH</text>
<rect x="0.5" y="0.5" width="519" height="688" fill="none" stroke="#000" stroke-width="1.2"/>
</svg>
</body></html>
